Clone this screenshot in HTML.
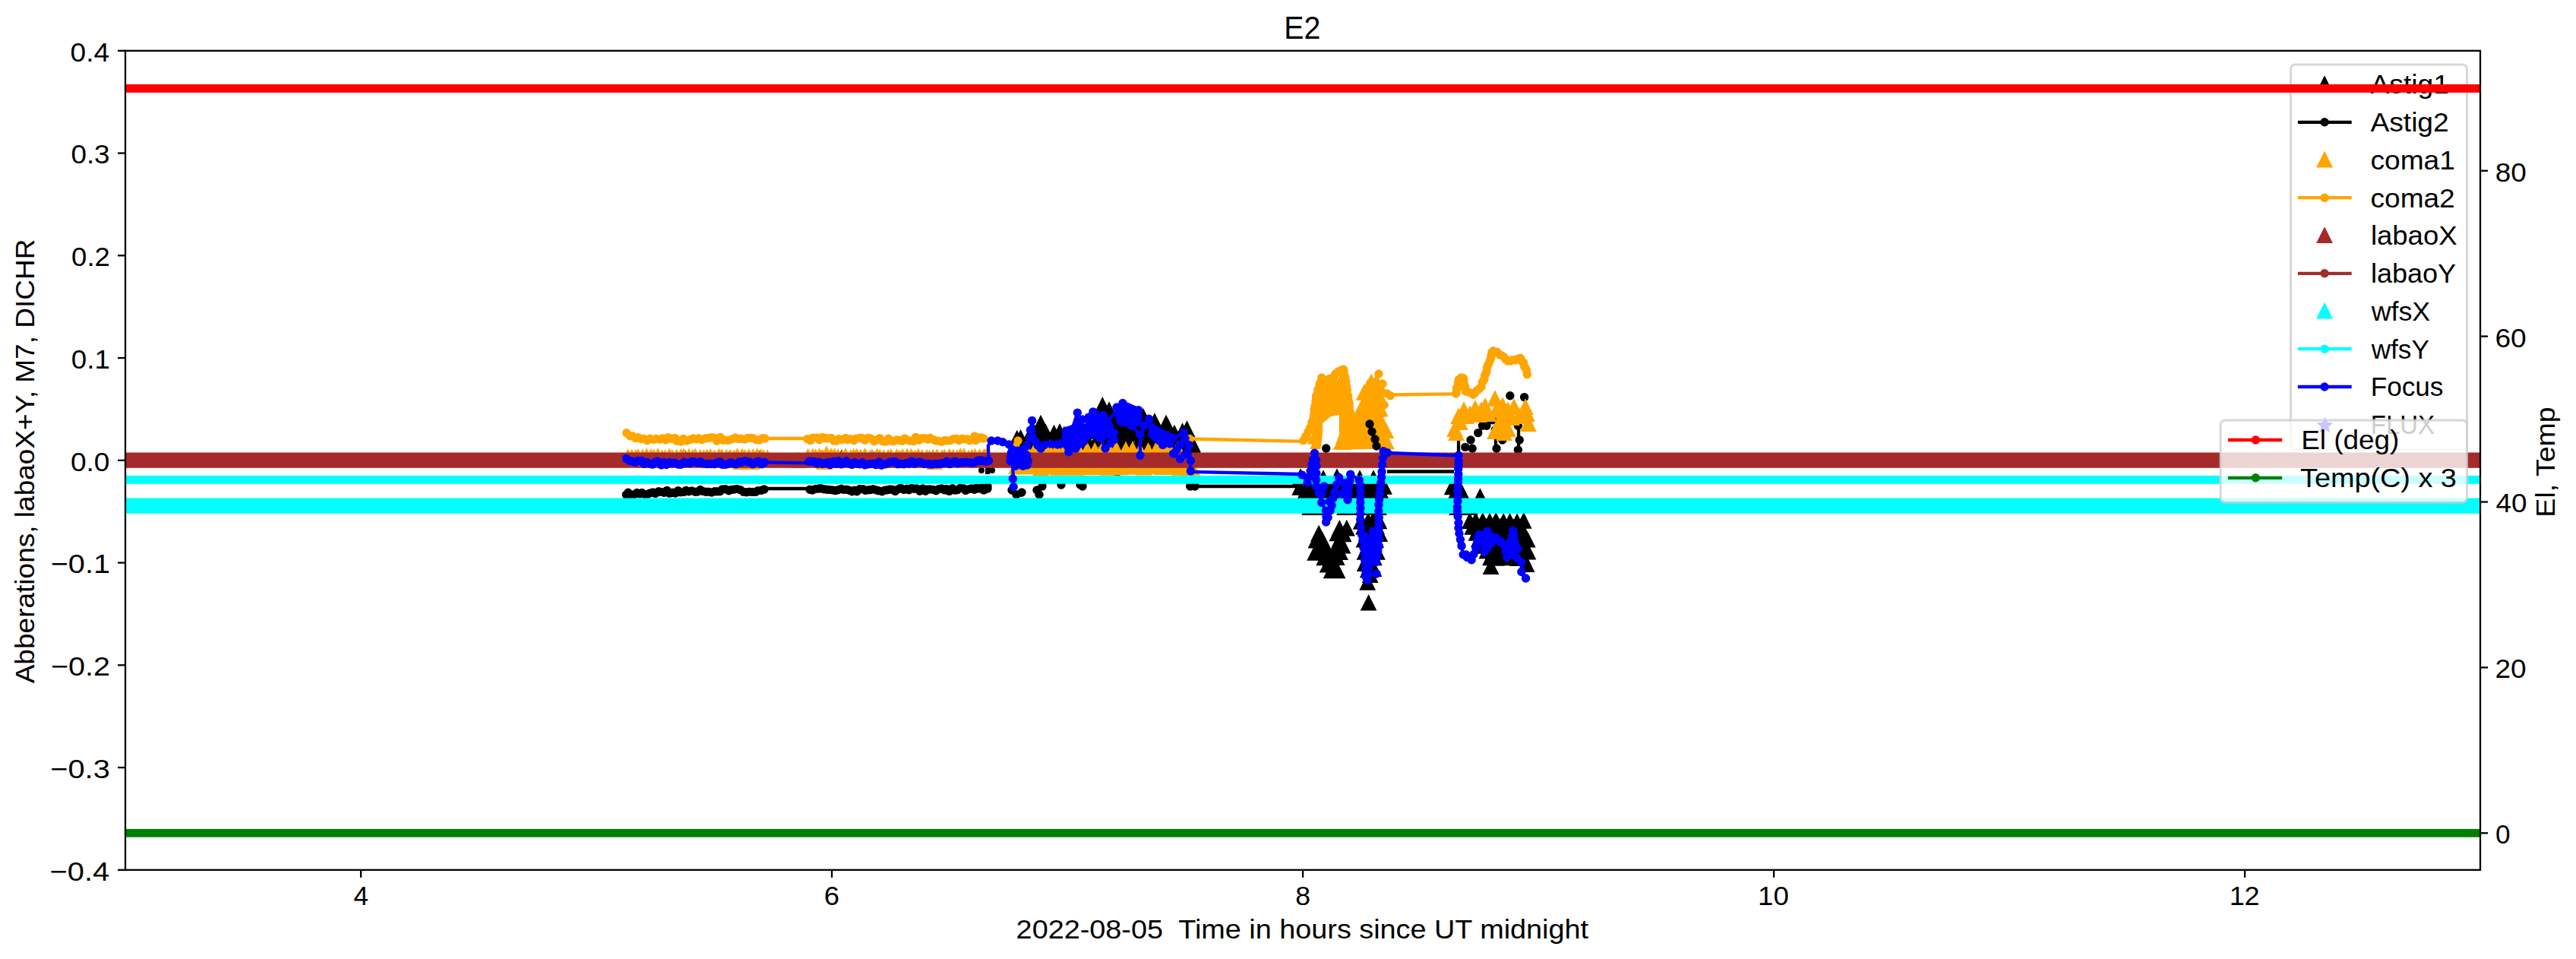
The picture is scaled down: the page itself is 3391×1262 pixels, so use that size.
<!DOCTYPE html><html><head><meta charset="utf-8"><style>html,body{margin:0;padding:0;background:#fff;overflow:hidden}</style></head><body><svg width="3391" height="1262" viewBox="0 0 3391 1262" style="display:block" font-family="Liberation Sans, sans-serif">
<rect width="3391" height="1262" fill="#fff"/>
<path d="M880.0 595.5L871.5 612.5L888.5 612.5ZM902.0 595.5L893.5 612.5L910.5 612.5ZM930.0 596.5L921.5 613.5L938.5 613.5ZM960.0 596.5L951.5 613.5L968.5 613.5ZM1000.0 595.5L991.5 612.5L1008.5 612.5ZM1082.0 595.5L1073.5 612.5L1090.5 612.5ZM1108.0 594.5L1099.5 611.5L1116.5 611.5ZM1150.0 596.5L1141.5 613.5L1158.5 613.5ZM1260.0 595.5L1251.5 612.5L1268.5 612.5ZM1296.0 594.5L1287.5 611.5L1304.5 611.5Z" fill="#000000" stroke="#000000" stroke-width="2.86" stroke-linejoin="miter"/>
<path d="M1461.0 535.4L1452.5 552.5L1469.6 552.5ZM1452.0 543.9L1443.5 561.0L1460.6 561.0ZM1465.3 545.3L1456.8 562.4L1473.9 562.4ZM1478.5 544.5L1469.9 561.6L1487.0 561.6ZM1492.6 541.5L1484.0 558.6L1501.1 558.6ZM1504.0 544.0L1495.5 561.1L1512.6 561.1ZM1368.6 553.9L1360.1 571.0L1377.2 571.0ZM1435.8 550.1L1427.2 567.2L1444.3 567.2ZM1448.3 551.5L1439.7 568.6L1456.8 568.6ZM1461.0 552.5L1452.4 569.6L1469.5 569.6ZM1471.7 554.0L1463.2 571.1L1480.3 571.1ZM1487.2 554.5L1478.7 571.6L1495.8 571.6ZM1499.9 552.0L1491.3 569.1L1508.4 569.1ZM1513.1 552.6L1504.5 569.7L1521.6 569.7ZM1522.2 553.9L1513.6 571.0L1530.7 571.0ZM1536.6 551.9L1528.0 569.0L1545.1 569.0ZM1362.2 562.0L1353.6 579.1L1370.7 579.1ZM1376.5 560.6L1367.9 577.7L1385.0 577.7ZM1387.5 561.9L1378.9 579.0L1396.0 579.0ZM1400.9 563.6L1392.4 580.7L1409.5 580.7ZM1411.6 561.4L1403.1 578.5L1420.2 578.5ZM1426.8 561.2L1418.2 578.3L1435.3 578.3ZM1441.3 559.3L1432.8 576.4L1449.9 576.4ZM1453.5 563.5L1445.0 580.6L1462.1 580.6ZM1465.1 561.0L1456.6 578.1L1473.7 578.1ZM1479.4 561.9L1470.9 579.0L1488.0 579.0ZM1494.1 562.6L1485.6 579.7L1502.7 579.7ZM1504.9 559.2L1496.4 576.3L1513.5 576.3ZM1517.8 563.6L1509.2 580.7L1526.3 580.7ZM1528.9 563.9L1520.3 581.0L1537.4 581.0ZM1546.0 562.0L1537.5 579.1L1554.6 579.1ZM1556.6 559.5L1548.0 576.6L1565.1 576.6ZM1343.6 568.1L1335.1 585.2L1352.2 585.2ZM1353.2 569.6L1344.7 586.7L1361.8 586.7ZM1370.6 568.8L1362.1 585.9L1379.2 585.9ZM1384.0 572.5L1375.4 589.6L1392.5 589.6ZM1395.0 569.7L1386.5 586.8L1403.6 586.8ZM1405.6 571.8L1397.0 588.9L1414.1 588.9ZM1420.4 570.4L1411.9 587.5L1429.0 587.5ZM1431.1 570.8L1422.6 587.9L1439.7 587.9ZM1445.6 569.7L1437.1 586.8L1454.2 586.8ZM1457.8 569.2L1449.3 586.3L1466.4 586.3ZM1474.6 570.4L1466.0 587.5L1483.1 587.5ZM1484.7 569.2L1476.2 586.3L1493.3 586.3ZM1499.8 572.6L1491.3 589.7L1508.4 589.7ZM1511.4 568.0L1502.9 585.1L1520.0 585.1ZM1524.8 570.6L1516.3 587.7L1533.4 587.7ZM1536.8 570.4L1528.2 587.5L1545.3 587.5ZM1549.3 571.4L1540.7 588.5L1557.8 588.5ZM1563.4 568.6L1554.9 585.7L1572.0 585.7ZM1334.7 579.9L1326.2 597.0L1343.3 597.0ZM1351.1 578.8L1342.6 595.9L1359.7 595.9ZM1359.6 578.6L1351.0 595.7L1368.1 595.7ZM1375.1 580.1L1366.6 597.2L1383.7 597.2ZM1387.9 580.4L1379.4 597.5L1396.5 597.5ZM1401.9 577.1L1393.4 594.2L1410.5 594.2ZM1412.1 581.5L1403.6 598.6L1420.7 598.6ZM1427.5 580.6L1418.9 597.7L1436.0 597.7ZM1439.3 580.1L1430.8 597.2L1447.9 597.2ZM1452.2 580.4L1443.6 597.5L1460.7 597.5ZM1466.7 580.8L1458.1 597.9L1475.2 597.9ZM1480.0 580.8L1471.4 597.9L1488.5 597.9ZM1489.7 580.0L1481.1 597.1L1498.2 597.1ZM1507.1 581.7L1498.5 598.8L1515.6 598.8ZM1519.1 581.2L1510.6 598.3L1527.7 598.3ZM1531.6 581.0L1523.1 598.1L1540.2 598.1ZM1545.0 579.5L1536.4 596.6L1553.5 596.6ZM1558.3 578.8L1549.8 595.9L1566.9 595.9ZM1571.3 580.8L1562.8 597.9L1579.9 597.9ZM1343.1 588.7L1334.5 605.8L1351.6 605.8ZM1357.7 590.0L1349.2 607.1L1366.3 607.1ZM1370.2 590.7L1361.7 607.8L1378.8 607.8ZM1383.1 589.7L1374.5 606.8L1391.6 606.8ZM1394.6 589.5L1386.0 606.6L1403.1 606.6ZM1406.9 587.6L1398.3 604.7L1415.4 604.7ZM1421.8 589.2L1413.3 606.3L1430.4 606.3ZM1433.8 589.9L1425.2 607.0L1442.3 607.0ZM1448.1 589.1L1439.5 606.2L1456.6 606.2ZM1461.7 590.4L1453.2 607.5L1470.3 607.5ZM1473.8 589.9L1465.2 607.0L1482.3 607.0ZM1486.6 589.9L1478.0 607.0L1495.1 607.0ZM1497.6 590.1L1489.1 607.2L1506.2 607.2ZM1512.2 590.9L1503.7 608.0L1520.8 608.0ZM1526.0 589.7L1517.4 606.8L1534.5 606.8ZM1538.1 587.5L1529.6 604.6L1546.7 604.6ZM1552.5 586.1L1543.9 603.2L1561.0 603.2ZM1565.0 587.7L1556.4 604.8L1573.5 604.8Z" fill="#000000" stroke="#000000" stroke-width="2.86" stroke-linejoin="miter"/>
<path d="M1338.8 569.0L1330.2 586.0L1347.3 586.0ZM1370.0 549.0L1361.5 566.0L1378.5 566.0ZM1395.0 560.2L1386.5 577.3L1403.5 577.3ZM1423.8 555.2L1415.2 572.3L1432.3 572.3ZM1451.3 525.2L1442.8 542.3L1459.8 542.3ZM1460.0 531.5L1451.5 548.5L1468.5 548.5ZM1505.0 540.2L1496.5 557.3L1513.5 557.3ZM1520.0 546.5L1511.5 563.5L1528.5 563.5ZM1535.0 549.0L1526.5 566.0L1543.5 566.0ZM1562.5 556.5L1554.0 573.5L1571.0 573.5ZM1570.0 576.5L1561.5 593.5L1578.5 593.5Z" fill="#000000" stroke="#000000" stroke-width="2.86" stroke-linejoin="miter"/>
<path d="M1380.0 603.5L1371.5 620.5L1388.5 620.5ZM1470.0 603.5L1461.5 620.5L1478.5 620.5Z" fill="#000000" stroke="#000000" stroke-width="2.86" stroke-linejoin="miter"/>
<path d="M1300.0 610.0L1300.0 624.0" fill="none" stroke="#000000" stroke-width="6" stroke-linejoin="round"/>
<path d="M1288.0 619.0a4 4 0 1 0 8 0a4 4 0 1 0 -8 0M1302.0 619.0a4 4 0 1 0 8 0a4 4 0 1 0 -8 0" fill="#000000"/>
<path d="M1711.1 633.3L1702.6 650.4L1719.7 650.4ZM1720.3 632.8L1711.8 649.9L1728.9 649.9ZM1729.2 633.4L1720.7 650.5L1737.8 650.5ZM1739.6 633.2L1731.1 650.3L1748.2 650.3ZM1747.4 632.5L1738.8 649.6L1755.9 649.6ZM1756.4 633.3L1747.8 650.4L1764.9 650.4ZM1766.4 632.5L1757.8 649.6L1774.9 649.6ZM1775.9 632.1L1767.3 649.2L1784.4 649.2ZM1784.3 632.8L1775.8 649.9L1792.9 649.9ZM1794.0 632.5L1785.4 649.6L1802.5 649.6ZM1717.2 640.4L1708.7 657.5L1725.8 657.5ZM1725.6 639.5L1717.0 656.6L1734.1 656.6ZM1735.3 641.3L1726.8 658.4L1743.9 658.4ZM1743.6 641.3L1735.0 658.4L1752.1 658.4ZM1752.1 640.7L1743.6 657.8L1760.7 657.8ZM1761.9 641.0L1753.3 658.1L1770.4 658.1ZM1770.6 640.7L1762.0 657.8L1779.1 657.8ZM1779.4 641.0L1770.9 658.1L1788.0 658.1ZM1787.6 641.1L1779.0 658.2L1796.1 658.2ZM1798.3 640.1L1789.8 657.2L1806.9 657.2Z" fill="#000000" stroke="#000000" stroke-width="2.86" stroke-linejoin="miter"/>
<path d="M1805.9 631.7L1797.4 648.8L1814.5 648.8ZM1814.6 632.8L1806.1 649.9L1823.2 649.9ZM1822.1 632.3L1813.5 649.4L1830.6 649.4ZM1808.5 640.9L1800.0 658.0L1817.1 658.0ZM1819.1 641.1L1810.6 658.2L1827.7 658.2Z" fill="#000000" stroke="#000000" stroke-width="2.86" stroke-linejoin="miter"/>
<path d="M1712.0 619.5L1703.5 636.5L1720.5 636.5ZM1726.0 619.5L1717.5 636.5L1734.5 636.5ZM1742.0 621.5L1733.5 638.5L1750.5 638.5ZM1760.0 619.5L1751.5 636.5L1768.5 636.5ZM1790.0 621.5L1781.5 638.5L1798.5 638.5ZM1808.0 621.5L1799.5 638.5L1816.5 638.5ZM1724.0 659.5L1715.5 676.5L1732.5 676.5ZM1736.0 659.5L1727.5 676.5L1744.5 676.5ZM1770.0 659.5L1761.5 676.5L1778.5 676.5ZM1785.0 659.5L1776.5 676.5L1793.5 676.5ZM1800.0 659.5L1791.5 676.5L1808.5 676.5ZM1815.0 659.5L1806.5 676.5L1823.5 676.5Z" fill="#000000" stroke="#000000" stroke-width="2.86" stroke-linejoin="miter"/>
<path d="M1763.3 687.1L1754.7 704.2L1771.8 704.2ZM1772.8 686.9L1764.3 704.0L1781.4 704.0ZM1736.1 693.9L1727.5 711.0L1744.6 711.0ZM1760.4 693.6L1751.8 710.7L1768.9 710.7ZM1768.7 694.7L1760.1 711.8L1777.2 711.8ZM1732.4 703.0L1723.9 720.1L1741.0 720.1ZM1741.0 703.0L1732.4 720.1L1749.5 720.1ZM1763.3 702.0L1754.8 719.1L1771.9 719.1ZM1736.5 710.5L1728.0 727.6L1745.1 727.6ZM1744.6 710.3L1736.0 727.4L1753.1 727.4ZM1759.6 710.9L1751.1 728.0L1768.2 728.0ZM1767.6 710.0L1759.0 727.1L1776.1 727.1ZM1731.1 719.3L1722.5 736.4L1739.6 736.4ZM1739.5 717.6L1730.9 734.7L1748.0 734.7ZM1748.0 718.4L1739.5 735.5L1756.6 735.5ZM1755.8 718.2L1747.3 735.3L1764.4 735.3ZM1764.0 718.5L1755.5 735.6L1772.6 735.6ZM1743.2 725.7L1734.6 742.8L1751.7 742.8ZM1752.0 725.5L1743.4 742.6L1760.5 742.6ZM1759.8 725.5L1751.2 742.6L1768.3 742.6ZM1747.6 735.0L1739.0 752.1L1756.1 752.1ZM1755.3 735.0L1746.7 752.1L1763.8 752.1ZM1752.6 742.8L1744.0 759.9L1761.1 759.9ZM1760.6 742.8L1752.0 759.9L1769.1 759.9Z" fill="#000000" stroke="#000000" stroke-width="2.86" stroke-linejoin="miter"/>
<path d="M1791.7 678.2L1783.1 695.3L1800.2 695.3ZM1800.9 677.6L1792.4 694.7L1809.5 694.7ZM1807.4 676.6L1798.9 693.7L1816.0 693.7ZM1815.5 677.7L1806.9 694.8L1824.0 694.8ZM1795.0 684.9L1786.5 702.0L1803.6 702.0ZM1803.1 685.4L1794.6 702.5L1811.7 702.5ZM1812.2 684.7L1803.6 701.8L1820.7 701.8ZM1800.1 693.8L1791.6 710.9L1808.7 710.9ZM1807.2 693.5L1798.6 710.6L1815.7 710.6ZM1816.2 694.4L1807.7 711.5L1824.8 711.5ZM1795.5 701.9L1786.9 719.0L1804.0 719.0ZM1804.0 702.1L1795.4 719.2L1812.5 719.2ZM1811.2 702.4L1802.7 719.5L1819.8 719.5ZM1800.3 709.6L1791.8 726.7L1808.9 726.7ZM1808.0 710.3L1799.5 727.4L1816.6 727.4ZM1796.5 718.1L1787.9 735.2L1805.0 735.2ZM1804.7 716.5L1796.1 733.6L1813.2 733.6ZM1813.0 718.3L1804.4 735.4L1821.5 735.4ZM1800.2 726.1L1791.6 743.2L1808.7 743.2ZM1808.9 725.8L1800.3 742.9L1817.4 742.9ZM1796.6 733.4L1788.1 750.5L1805.2 750.5ZM1803.0 733.1L1794.5 750.2L1811.6 750.2ZM1800.7 741.6L1792.1 758.7L1809.2 758.7ZM1808.3 740.5L1799.8 757.6L1816.9 757.6ZM1803.6 748.5L1795.1 765.6L1812.2 765.6ZM1800.1 758.2L1791.6 775.3L1808.7 775.3Z" fill="#000000" stroke="#000000" stroke-width="2.86" stroke-linejoin="miter"/>
<path d="M1801.6 785.1L1793.0 802.1L1810.1 802.1Z" fill="#000000" stroke="#000000" stroke-width="2.86" stroke-linejoin="miter"/>
<path d="M1911.5 632.7L1903.0 649.8L1920.1 649.8ZM1919.8 634.1L1911.3 651.2L1928.4 651.2ZM1915.6 640.6L1907.0 657.7L1924.1 657.7ZM1924.8 641.0L1916.3 658.1L1933.4 658.1Z" fill="#000000" stroke="#000000" stroke-width="2.86" stroke-linejoin="miter"/>
<path d="M1948.4 645.5L1939.9 662.5L1957.0 662.5ZM1918.0 659.5L1909.5 676.5L1926.5 676.5ZM1935.0 659.5L1926.5 676.5L1943.5 676.5Z" fill="#000000" stroke="#000000" stroke-width="2.86" stroke-linejoin="miter"/>
<path d="M1934.8 677.5L1926.3 694.6L1943.4 694.6ZM1942.6 677.2L1934.0 694.3L1951.1 694.3ZM1951.8 677.1L1943.3 694.2L1960.4 694.2ZM1961.0 678.0L1952.5 695.1L1969.6 695.1ZM1969.2 677.0L1960.7 694.1L1977.8 694.1ZM1979.2 678.1L1970.6 695.2L1987.7 695.2ZM1987.6 678.1L1979.1 695.2L1996.2 695.2ZM1997.1 678.4L1988.5 695.5L2005.6 695.5ZM2005.8 677.2L1997.2 694.3L2014.3 694.3ZM1938.2 685.1L1929.6 702.2L1946.7 702.2ZM1948.0 684.7L1939.5 701.8L1956.6 701.8ZM1956.1 684.9L1947.5 702.0L1964.6 702.0ZM1966.1 685.9L1957.6 703.0L1974.7 703.0ZM1975.2 684.6L1966.6 701.7L1983.7 701.7ZM1984.5 684.5L1975.9 701.6L1993.0 701.6ZM1992.3 685.8L1983.7 702.9L2000.8 702.9ZM2001.2 685.9L1992.6 703.0L2009.7 703.0ZM1943.5 693.3L1934.9 710.4L1952.0 710.4ZM1951.2 693.6L1942.6 710.7L1959.7 710.7ZM1960.0 692.7L1951.5 709.8L1968.6 709.8ZM1970.3 694.3L1961.8 711.4L1978.9 711.4ZM1979.5 693.4L1970.9 710.5L1988.0 710.5ZM1987.9 693.2L1979.4 710.3L1996.5 710.3ZM1997.2 694.0L1988.7 711.1L2005.8 711.1ZM2005.9 693.2L1997.3 710.3L2014.4 710.3ZM1946.7 701.7L1938.2 718.8L1955.3 718.8ZM1957.4 701.9L1948.8 719.0L1965.9 719.0ZM1965.4 701.2L1956.9 718.3L1974.0 718.3ZM1974.2 701.4L1965.7 718.5L1982.8 718.5ZM1984.0 702.1L1975.5 719.2L1992.6 719.2ZM1992.3 700.8L1983.7 717.9L2000.8 717.9ZM2002.4 701.9L1993.9 719.0L2011.0 719.0ZM2010.7 702.0L2002.2 719.1L2019.3 719.1ZM1951.9 710.2L1943.4 727.3L1960.5 727.3ZM1961.7 710.1L1953.1 727.2L1970.2 727.2ZM1969.3 710.3L1960.8 727.4L1977.9 727.4ZM1979.5 709.4L1970.9 726.5L1988.0 726.5ZM1988.6 709.8L1980.0 726.9L1997.1 726.9ZM1996.9 708.6L1988.4 725.7L2005.5 725.7ZM2006.8 709.0L1998.2 726.1L2015.3 726.1ZM1957.4 716.6L1948.8 733.7L1965.9 733.7ZM1965.5 717.1L1956.9 734.2L1974.0 734.2ZM1974.9 717.4L1966.3 734.5L1983.4 734.5ZM1982.6 718.4L1974.1 735.5L1991.2 735.5ZM1992.1 717.5L1983.5 734.6L2000.6 734.6ZM2002.2 716.6L1993.6 733.7L2010.7 733.7ZM2011.4 718.0L2002.9 735.1L2020.0 735.1ZM1961.9 725.7L1953.4 742.8L1970.5 742.8ZM1970.1 726.1L1961.5 743.2L1978.6 743.2ZM1978.1 725.7L1969.6 742.8L1986.7 742.8ZM1988.5 724.6L1980.0 741.7L1997.1 741.7ZM1997.7 726.4L1989.2 743.5L2006.3 743.5ZM2005.6 726.4L1997.1 743.5L2014.2 743.5Z" fill="#000000" stroke="#000000" stroke-width="2.86" stroke-linejoin="miter"/>
<path d="M1962.6 737.5L1954.0 754.5L1971.1 754.5ZM2009.6 734.5L2001.0 751.5L2018.1 751.5Z" fill="#000000" stroke="#000000" stroke-width="2.86" stroke-linejoin="miter"/>
<path d="M824.0 650.0L845.0 648.5L870.0 647.5L900.0 647.0L940.0 646.0L970.0 645.5L990.0 646.0L1006.0 644.0" fill="none" stroke="#000000" stroke-width="4.29" stroke-linejoin="round"/>
<path d="M818.7 651.1a5.7 5.7 0 1 0 11.4 0a5.7 5.7 0 1 0 -11.4 0M821.2 648.2a5.7 5.7 0 1 0 11.4 0a5.7 5.7 0 1 0 -11.4 0M824.9 651.4a5.7 5.7 0 1 0 11.4 0a5.7 5.7 0 1 0 -11.4 0M829.1 650.7a5.7 5.7 0 1 0 11.4 0a5.7 5.7 0 1 0 -11.4 0M832.7 648.5a5.7 5.7 0 1 0 11.4 0a5.7 5.7 0 1 0 -11.4 0M836.4 649.9a5.7 5.7 0 1 0 11.4 0a5.7 5.7 0 1 0 -11.4 0M839.3 648.5a5.7 5.7 0 1 0 11.4 0a5.7 5.7 0 1 0 -11.4 0M843.1 650.4a5.7 5.7 0 1 0 11.4 0a5.7 5.7 0 1 0 -11.4 0M847.1 650.3a5.7 5.7 0 1 0 11.4 0a5.7 5.7 0 1 0 -11.4 0M850.1 648.9a5.7 5.7 0 1 0 11.4 0a5.7 5.7 0 1 0 -11.4 0M853.6 648.0a5.7 5.7 0 1 0 11.4 0a5.7 5.7 0 1 0 -11.4 0M857.0 649.4a5.7 5.7 0 1 0 11.4 0a5.7 5.7 0 1 0 -11.4 0M861.2 646.7a5.7 5.7 0 1 0 11.4 0a5.7 5.7 0 1 0 -11.4 0M864.5 647.4a5.7 5.7 0 1 0 11.4 0a5.7 5.7 0 1 0 -11.4 0M868.4 648.3a5.7 5.7 0 1 0 11.4 0a5.7 5.7 0 1 0 -11.4 0M872.3 645.4a5.7 5.7 0 1 0 11.4 0a5.7 5.7 0 1 0 -11.4 0M875.5 649.1a5.7 5.7 0 1 0 11.4 0a5.7 5.7 0 1 0 -11.4 0M879.7 648.3a5.7 5.7 0 1 0 11.4 0a5.7 5.7 0 1 0 -11.4 0M883.4 649.0a5.7 5.7 0 1 0 11.4 0a5.7 5.7 0 1 0 -11.4 0M886.9 645.6a5.7 5.7 0 1 0 11.4 0a5.7 5.7 0 1 0 -11.4 0M890.2 647.8a5.7 5.7 0 1 0 11.4 0a5.7 5.7 0 1 0 -11.4 0M894.5 647.4a5.7 5.7 0 1 0 11.4 0a5.7 5.7 0 1 0 -11.4 0M897.3 645.4a5.7 5.7 0 1 0 11.4 0a5.7 5.7 0 1 0 -11.4 0M901.0 646.8a5.7 5.7 0 1 0 11.4 0a5.7 5.7 0 1 0 -11.4 0M904.8 645.9a5.7 5.7 0 1 0 11.4 0a5.7 5.7 0 1 0 -11.4 0M909.5 647.3a5.7 5.7 0 1 0 11.4 0a5.7 5.7 0 1 0 -11.4 0M912.1 647.1a5.7 5.7 0 1 0 11.4 0a5.7 5.7 0 1 0 -11.4 0M916.2 644.5a5.7 5.7 0 1 0 11.4 0a5.7 5.7 0 1 0 -11.4 0M919.5 646.4a5.7 5.7 0 1 0 11.4 0a5.7 5.7 0 1 0 -11.4 0M923.6 647.3a5.7 5.7 0 1 0 11.4 0a5.7 5.7 0 1 0 -11.4 0M927.0 647.1a5.7 5.7 0 1 0 11.4 0a5.7 5.7 0 1 0 -11.4 0M931.2 648.0a5.7 5.7 0 1 0 11.4 0a5.7 5.7 0 1 0 -11.4 0M934.9 646.7a5.7 5.7 0 1 0 11.4 0a5.7 5.7 0 1 0 -11.4 0M938.3 646.7a5.7 5.7 0 1 0 11.4 0a5.7 5.7 0 1 0 -11.4 0M942.1 646.6a5.7 5.7 0 1 0 11.4 0a5.7 5.7 0 1 0 -11.4 0M945.2 643.9a5.7 5.7 0 1 0 11.4 0a5.7 5.7 0 1 0 -11.4 0M949.2 643.6a5.7 5.7 0 1 0 11.4 0a5.7 5.7 0 1 0 -11.4 0M953.6 645.8a5.7 5.7 0 1 0 11.4 0a5.7 5.7 0 1 0 -11.4 0M956.8 644.5a5.7 5.7 0 1 0 11.4 0a5.7 5.7 0 1 0 -11.4 0M960.3 644.1a5.7 5.7 0 1 0 11.4 0a5.7 5.7 0 1 0 -11.4 0M964.3 643.4a5.7 5.7 0 1 0 11.4 0a5.7 5.7 0 1 0 -11.4 0M968.9 644.6a5.7 5.7 0 1 0 11.4 0a5.7 5.7 0 1 0 -11.4 0M972.8 647.3a5.7 5.7 0 1 0 11.4 0a5.7 5.7 0 1 0 -11.4 0M976.9 647.8a5.7 5.7 0 1 0 11.4 0a5.7 5.7 0 1 0 -11.4 0M980.7 647.1a5.7 5.7 0 1 0 11.4 0a5.7 5.7 0 1 0 -11.4 0M984.7 647.4a5.7 5.7 0 1 0 11.4 0a5.7 5.7 0 1 0 -11.4 0M988.9 647.4a5.7 5.7 0 1 0 11.4 0a5.7 5.7 0 1 0 -11.4 0M991.9 645.6a5.7 5.7 0 1 0 11.4 0a5.7 5.7 0 1 0 -11.4 0M996.7 645.3a5.7 5.7 0 1 0 11.4 0a5.7 5.7 0 1 0 -11.4 0M1000.3 644.0a5.7 5.7 0 1 0 11.4 0a5.7 5.7 0 1 0 -11.4 0" fill="#000000"/>
<path d="M1006.0 643.0L1064.0 643.0" fill="none" stroke="#000000" stroke-width="4.29" stroke-linejoin="round"/>
<path d="M1066.0 645.0L1100.0 644.5L1150.0 645.0L1200.0 644.0L1250.0 644.5L1300.0 643.0" fill="none" stroke="#000000" stroke-width="4.29" stroke-linejoin="round"/>
<path d="M1060.3 644.2a5.7 5.7 0 1 0 11.4 0a5.7 5.7 0 1 0 -11.4 0M1063.8 645.0a5.7 5.7 0 1 0 11.4 0a5.7 5.7 0 1 0 -11.4 0M1067.9 643.4a5.7 5.7 0 1 0 11.4 0a5.7 5.7 0 1 0 -11.4 0M1072.3 643.0a5.7 5.7 0 1 0 11.4 0a5.7 5.7 0 1 0 -11.4 0M1075.0 642.7a5.7 5.7 0 1 0 11.4 0a5.7 5.7 0 1 0 -11.4 0M1078.9 643.8a5.7 5.7 0 1 0 11.4 0a5.7 5.7 0 1 0 -11.4 0M1082.7 644.3a5.7 5.7 0 1 0 11.4 0a5.7 5.7 0 1 0 -11.4 0M1086.1 644.4a5.7 5.7 0 1 0 11.4 0a5.7 5.7 0 1 0 -11.4 0M1090.4 644.9a5.7 5.7 0 1 0 11.4 0a5.7 5.7 0 1 0 -11.4 0M1093.9 645.6a5.7 5.7 0 1 0 11.4 0a5.7 5.7 0 1 0 -11.4 0M1097.4 644.7a5.7 5.7 0 1 0 11.4 0a5.7 5.7 0 1 0 -11.4 0M1101.8 643.3a5.7 5.7 0 1 0 11.4 0a5.7 5.7 0 1 0 -11.4 0M1104.4 644.3a5.7 5.7 0 1 0 11.4 0a5.7 5.7 0 1 0 -11.4 0M1108.7 644.2a5.7 5.7 0 1 0 11.4 0a5.7 5.7 0 1 0 -11.4 0M1111.7 645.0a5.7 5.7 0 1 0 11.4 0a5.7 5.7 0 1 0 -11.4 0M1115.9 646.8a5.7 5.7 0 1 0 11.4 0a5.7 5.7 0 1 0 -11.4 0M1119.0 645.2a5.7 5.7 0 1 0 11.4 0a5.7 5.7 0 1 0 -11.4 0M1122.3 646.8a5.7 5.7 0 1 0 11.4 0a5.7 5.7 0 1 0 -11.4 0M1126.0 643.5a5.7 5.7 0 1 0 11.4 0a5.7 5.7 0 1 0 -11.4 0M1130.5 643.7a5.7 5.7 0 1 0 11.4 0a5.7 5.7 0 1 0 -11.4 0M1133.6 645.4a5.7 5.7 0 1 0 11.4 0a5.7 5.7 0 1 0 -11.4 0M1137.6 644.6a5.7 5.7 0 1 0 11.4 0a5.7 5.7 0 1 0 -11.4 0M1140.2 644.5a5.7 5.7 0 1 0 11.4 0a5.7 5.7 0 1 0 -11.4 0M1143.7 643.8a5.7 5.7 0 1 0 11.4 0a5.7 5.7 0 1 0 -11.4 0M1148.1 645.0a5.7 5.7 0 1 0 11.4 0a5.7 5.7 0 1 0 -11.4 0M1150.9 645.7a5.7 5.7 0 1 0 11.4 0a5.7 5.7 0 1 0 -11.4 0M1155.5 646.8a5.7 5.7 0 1 0 11.4 0a5.7 5.7 0 1 0 -11.4 0M1159.0 645.1a5.7 5.7 0 1 0 11.4 0a5.7 5.7 0 1 0 -11.4 0M1162.5 644.7a5.7 5.7 0 1 0 11.4 0a5.7 5.7 0 1 0 -11.4 0M1166.0 644.0a5.7 5.7 0 1 0 11.4 0a5.7 5.7 0 1 0 -11.4 0M1168.8 644.2a5.7 5.7 0 1 0 11.4 0a5.7 5.7 0 1 0 -11.4 0M1172.7 646.4a5.7 5.7 0 1 0 11.4 0a5.7 5.7 0 1 0 -11.4 0M1176.1 643.9a5.7 5.7 0 1 0 11.4 0a5.7 5.7 0 1 0 -11.4 0M1179.8 642.1a5.7 5.7 0 1 0 11.4 0a5.7 5.7 0 1 0 -11.4 0M1184.2 644.4a5.7 5.7 0 1 0 11.4 0a5.7 5.7 0 1 0 -11.4 0M1187.8 643.3a5.7 5.7 0 1 0 11.4 0a5.7 5.7 0 1 0 -11.4 0M1190.8 644.7a5.7 5.7 0 1 0 11.4 0a5.7 5.7 0 1 0 -11.4 0M1194.2 642.4a5.7 5.7 0 1 0 11.4 0a5.7 5.7 0 1 0 -11.4 0M1197.7 643.3a5.7 5.7 0 1 0 11.4 0a5.7 5.7 0 1 0 -11.4 0M1201.1 643.0a5.7 5.7 0 1 0 11.4 0a5.7 5.7 0 1 0 -11.4 0M1205.0 646.2a5.7 5.7 0 1 0 11.4 0a5.7 5.7 0 1 0 -11.4 0M1209.0 642.9a5.7 5.7 0 1 0 11.4 0a5.7 5.7 0 1 0 -11.4 0M1212.6 646.2a5.7 5.7 0 1 0 11.4 0a5.7 5.7 0 1 0 -11.4 0M1215.8 644.0a5.7 5.7 0 1 0 11.4 0a5.7 5.7 0 1 0 -11.4 0M1218.9 643.9a5.7 5.7 0 1 0 11.4 0a5.7 5.7 0 1 0 -11.4 0M1222.9 644.4a5.7 5.7 0 1 0 11.4 0a5.7 5.7 0 1 0 -11.4 0M1226.5 645.7a5.7 5.7 0 1 0 11.4 0a5.7 5.7 0 1 0 -11.4 0M1230.4 643.4a5.7 5.7 0 1 0 11.4 0a5.7 5.7 0 1 0 -11.4 0M1234.0 642.9a5.7 5.7 0 1 0 11.4 0a5.7 5.7 0 1 0 -11.4 0M1237.7 644.9a5.7 5.7 0 1 0 11.4 0a5.7 5.7 0 1 0 -11.4 0M1240.3 643.4a5.7 5.7 0 1 0 11.4 0a5.7 5.7 0 1 0 -11.4 0M1243.9 646.4a5.7 5.7 0 1 0 11.4 0a5.7 5.7 0 1 0 -11.4 0M1248.1 642.8a5.7 5.7 0 1 0 11.4 0a5.7 5.7 0 1 0 -11.4 0M1251.7 645.1a5.7 5.7 0 1 0 11.4 0a5.7 5.7 0 1 0 -11.4 0M1254.7 644.6a5.7 5.7 0 1 0 11.4 0a5.7 5.7 0 1 0 -11.4 0M1258.3 642.2a5.7 5.7 0 1 0 11.4 0a5.7 5.7 0 1 0 -11.4 0M1262.8 642.9a5.7 5.7 0 1 0 11.4 0a5.7 5.7 0 1 0 -11.4 0M1265.4 645.4a5.7 5.7 0 1 0 11.4 0a5.7 5.7 0 1 0 -11.4 0M1269.7 643.6a5.7 5.7 0 1 0 11.4 0a5.7 5.7 0 1 0 -11.4 0M1272.9 643.0a5.7 5.7 0 1 0 11.4 0a5.7 5.7 0 1 0 -11.4 0M1276.9 644.3a5.7 5.7 0 1 0 11.4 0a5.7 5.7 0 1 0 -11.4 0M1280.2 642.6a5.7 5.7 0 1 0 11.4 0a5.7 5.7 0 1 0 -11.4 0M1283.0 643.0a5.7 5.7 0 1 0 11.4 0a5.7 5.7 0 1 0 -11.4 0M1286.7 641.8a5.7 5.7 0 1 0 11.4 0a5.7 5.7 0 1 0 -11.4 0M1291.4 643.9a5.7 5.7 0 1 0 11.4 0a5.7 5.7 0 1 0 -11.4 0M1294.3 643.0a5.7 5.7 0 1 0 11.4 0a5.7 5.7 0 1 0 -11.4 0" fill="#000000"/>
<path d="M1279.3 642.0a5.7 5.7 0 1 0 11.4 0a5.7 5.7 0 1 0 -11.4 0M1289.3 645.0a5.7 5.7 0 1 0 11.4 0a5.7 5.7 0 1 0 -11.4 0M1294.3 640.0a5.7 5.7 0 1 0 11.4 0a5.7 5.7 0 1 0 -11.4 0M1326.3 645.0a5.7 5.7 0 1 0 11.4 0a5.7 5.7 0 1 0 -11.4 0M1332.3 651.0a5.7 5.7 0 1 0 11.4 0a5.7 5.7 0 1 0 -11.4 0M1339.3 648.0a5.7 5.7 0 1 0 11.4 0a5.7 5.7 0 1 0 -11.4 0M1359.3 645.0a5.7 5.7 0 1 0 11.4 0a5.7 5.7 0 1 0 -11.4 0M1362.3 651.0a5.7 5.7 0 1 0 11.4 0a5.7 5.7 0 1 0 -11.4 0M1366.3 640.0a5.7 5.7 0 1 0 11.4 0a5.7 5.7 0 1 0 -11.4 0M1391.3 638.0a5.7 5.7 0 1 0 11.4 0a5.7 5.7 0 1 0 -11.4 0M1416.3 638.0a5.7 5.7 0 1 0 11.4 0a5.7 5.7 0 1 0 -11.4 0M1419.3 640.0a5.7 5.7 0 1 0 11.4 0a5.7 5.7 0 1 0 -11.4 0M1464.3 621.7a5.7 5.7 0 1 0 11.4 0a5.7 5.7 0 1 0 -11.4 0M1417.3 638.0a5.7 5.7 0 1 0 11.4 0a5.7 5.7 0 1 0 -11.4 0M1561.0 640.0a5.7 5.7 0 1 0 11.4 0a5.7 5.7 0 1 0 -11.4 0M1567.3 640.0a5.7 5.7 0 1 0 11.4 0a5.7 5.7 0 1 0 -11.4 0" fill="#000000"/>
<path d="M1567.0 640.0L1712.0 640.0" fill="none" stroke="#000000" stroke-width="4.29" stroke-linejoin="round"/>
<path d="M1740.0 590.0a5.7 5.7 0 1 0 11.4 0a5.7 5.7 0 1 0 -11.4 0M1799.3 560.0a5.7 5.7 0 1 0 11.4 0a5.7 5.7 0 1 0 -11.4 0M1802.3 575.0a5.7 5.7 0 1 0 11.4 0a5.7 5.7 0 1 0 -11.4 0M1806.3 585.0a5.7 5.7 0 1 0 11.4 0a5.7 5.7 0 1 0 -11.4 0" fill="#000000"/>
<path d="M1826.0 620.5L1914.0 620.5" fill="none" stroke="#000000" stroke-width="4.29" stroke-linejoin="round"/>
<path d="M1920.0 575.0L1920.0 596.0" fill="none" stroke="#000000" stroke-width="4.29" stroke-linejoin="round"/>
<path d="M1969.0 552.0L1969.0 594.0" fill="none" stroke="#000000" stroke-width="4.29" stroke-linejoin="round"/>
<path d="M1999.0 552.0L1999.0 594.0" fill="none" stroke="#000000" stroke-width="4.29" stroke-linejoin="round"/>
<path d="M1982.1 520.7a5.7 5.7 0 1 0 11.4 0a5.7 5.7 0 1 0 -11.4 0M2000.9 522.6a5.7 5.7 0 1 0 11.4 0a5.7 5.7 0 1 0 -11.4 0M1930.3 579.0a5.7 5.7 0 1 0 11.4 0a5.7 5.7 0 1 0 -11.4 0M1940.0 569.6a5.7 5.7 0 1 0 11.4 0a5.7 5.7 0 1 0 -11.4 0M1923.1 588.4a5.7 5.7 0 1 0 11.4 0a5.7 5.7 0 1 0 -11.4 0M1932.5 590.2a5.7 5.7 0 1 0 11.4 0a5.7 5.7 0 1 0 -11.4 0M1945.7 560.2a5.7 5.7 0 1 0 11.4 0a5.7 5.7 0 1 0 -11.4 0M1951.3 560.2a5.7 5.7 0 1 0 11.4 0a5.7 5.7 0 1 0 -11.4 0M1958.8 552.7a5.7 5.7 0 1 0 11.4 0a5.7 5.7 0 1 0 -11.4 0M1962.6 565.8a5.7 5.7 0 1 0 11.4 0a5.7 5.7 0 1 0 -11.4 0M1964.3 590.2a5.7 5.7 0 1 0 11.4 0a5.7 5.7 0 1 0 -11.4 0M1972.0 579.0a5.7 5.7 0 1 0 11.4 0a5.7 5.7 0 1 0 -11.4 0M1992.6 560.2a5.7 5.7 0 1 0 11.4 0a5.7 5.7 0 1 0 -11.4 0M1994.5 579.0a5.7 5.7 0 1 0 11.4 0a5.7 5.7 0 1 0 -11.4 0M1992.6 592.1a5.7 5.7 0 1 0 11.4 0a5.7 5.7 0 1 0 -11.4 0M1916.3 560.0a5.7 5.7 0 1 0 11.4 0a5.7 5.7 0 1 0 -11.4 0" fill="#000000"/>
<path d="M826.5 593.3L818.0 610.4L835.1 610.4ZM831.7 593.6L823.2 610.7L840.3 610.7ZM836.7 594.0L828.2 611.1L845.3 611.1ZM840.0 593.1L831.5 610.2L848.6 610.2ZM845.9 593.6L837.4 610.7L854.5 610.7ZM851.2 592.4L842.6 609.5L859.7 609.5ZM857.0 593.2L848.5 610.3L865.6 610.3ZM860.8 593.8L852.3 610.9L869.4 610.9ZM866.2 592.5L857.6 609.6L874.7 609.6ZM871.6 594.4L863.0 611.5L880.1 611.5ZM875.6 594.2L867.1 611.3L884.2 611.3ZM881.2 592.7L872.6 609.8L889.7 609.8ZM884.9 594.1L876.4 611.2L893.5 611.2ZM890.7 593.8L882.2 610.9L899.3 610.9ZM896.3 593.2L887.8 610.3L904.9 610.3ZM900.1 592.7L891.5 609.8L908.6 609.8ZM906.9 592.9L898.4 610.0L915.5 610.0ZM911.7 593.9L903.2 611.0L920.3 611.0ZM915.2 592.6L906.7 609.7L923.8 609.7ZM921.7 593.8L913.1 610.9L930.2 610.9ZM926.4 594.1L917.8 611.2L934.9 611.2ZM930.8 593.6L922.2 610.7L939.3 610.7ZM935.2 592.9L926.7 610.0L943.8 610.0ZM940.4 594.5L931.9 611.6L949.0 611.6ZM946.5 593.0L937.9 610.1L955.0 610.1ZM950.1 593.3L941.6 610.4L958.7 610.4ZM956.4 593.7L947.8 610.8L964.9 610.8ZM961.6 594.1L953.1 611.2L970.2 611.2ZM966.1 594.2L957.6 611.3L974.7 611.3ZM970.5 592.3L961.9 609.4L979.0 609.4ZM977.0 592.7L968.5 609.8L985.6 609.8ZM980.6 593.9L972.0 611.0L989.1 611.0ZM985.9 593.2L977.3 610.3L994.4 610.3ZM991.3 593.1L982.7 610.2L999.8 610.2ZM996.7 592.5L988.1 609.6L1005.2 609.6ZM1001.7 593.2L993.2 610.3L1010.3 610.3ZM1004.9 594.4L996.3 611.5L1013.4 611.5ZM1010.2 594.4L1001.7 611.5L1018.8 611.5Z" fill="#ffa500" stroke="#ffa500" stroke-width="2.86" stroke-linejoin="miter"/>
<path d="M1063.5 592.8L1055.0 609.9L1072.1 609.9ZM1070.0 592.7L1061.4 609.8L1078.5 609.8ZM1073.7 593.3L1065.1 610.4L1082.2 610.4ZM1078.7 592.5L1070.2 609.6L1087.3 609.6ZM1082.9 594.3L1074.3 611.4L1091.4 611.4ZM1087.9 593.4L1079.4 610.5L1096.5 610.5ZM1094.0 592.3L1085.5 609.4L1102.6 609.4ZM1098.3 592.3L1089.8 609.4L1106.9 609.4ZM1103.2 593.1L1094.7 610.2L1111.8 610.2ZM1108.8 594.6L1100.3 611.7L1117.4 611.7ZM1113.0 592.3L1104.5 609.4L1121.6 609.4ZM1119.9 594.2L1111.3 611.3L1128.4 611.3ZM1123.9 592.7L1115.4 609.8L1132.5 609.8ZM1127.8 592.8L1119.3 609.9L1136.4 609.9ZM1132.8 593.6L1124.3 610.7L1141.4 610.7ZM1138.6 592.2L1130.1 609.3L1147.2 609.3ZM1145.1 594.6L1136.6 611.7L1153.7 611.7ZM1147.8 593.4L1139.3 610.5L1156.4 610.5ZM1154.7 592.6L1146.2 609.7L1163.3 609.7ZM1158.3 593.6L1149.7 610.7L1166.8 610.7ZM1163.4 594.3L1154.8 611.4L1171.9 611.4ZM1169.1 594.0L1160.6 611.1L1177.7 611.1ZM1172.8 593.3L1164.2 610.4L1181.3 610.4ZM1180.2 593.3L1171.6 610.4L1188.7 610.4ZM1183.9 594.5L1175.4 611.6L1192.5 611.6ZM1188.1 593.1L1179.6 610.2L1196.7 610.2ZM1194.1 592.7L1185.6 609.8L1202.7 609.8ZM1199.8 593.0L1191.3 610.1L1208.4 610.1ZM1204.6 594.4L1196.0 611.5L1213.1 611.5ZM1208.9 592.6L1200.3 609.7L1217.4 609.7ZM1213.9 594.1L1205.3 611.2L1222.4 611.2ZM1220.1 594.1L1211.5 611.2L1228.6 611.2ZM1223.6 594.7L1215.1 611.8L1232.2 611.8ZM1228.3 593.6L1219.7 610.7L1236.8 610.7ZM1233.5 593.4L1225.0 610.5L1242.1 610.5ZM1240.0 594.4L1231.4 611.5L1248.5 611.5ZM1243.2 593.7L1234.6 610.8L1251.7 610.8ZM1249.7 593.0L1241.1 610.1L1258.2 610.1ZM1254.6 593.8L1246.1 610.9L1263.2 610.9ZM1260.2 594.6L1251.7 611.7L1268.8 611.7ZM1264.2 592.2L1255.6 609.3L1272.7 609.3ZM1269.0 592.3L1260.4 609.4L1277.5 609.4ZM1275.0 594.6L1266.4 611.7L1283.5 611.7ZM1279.3 593.4L1270.7 610.5L1287.8 610.5ZM1283.6 592.9L1275.0 610.0L1292.1 610.0ZM1289.4 593.3L1280.8 610.4L1297.9 610.4ZM1295.1 593.0L1286.6 610.1L1303.7 610.1ZM1297.8 592.9L1289.2 610.0L1306.3 610.0Z" fill="#ffa500" stroke="#ffa500" stroke-width="2.86" stroke-linejoin="miter"/>
<path d="M1088.0 589.5L1079.5 606.5L1096.5 606.5ZM975.0 599.5L966.5 616.5L983.5 616.5ZM990.0 599.5L981.5 616.5L998.5 616.5ZM1085.0 599.5L1076.5 616.5L1093.5 616.5ZM1230.0 599.5L1221.5 616.5L1238.5 616.5ZM1050.0 597.5L1041.5 614.5L1058.5 614.5Z" fill="#ffa500" stroke="#ffa500" stroke-width="2.86" stroke-linejoin="miter"/>
<path d="M1340.6 585.3L1332.1 602.4L1349.2 602.4ZM1350.3 583.1L1341.8 600.2L1358.9 600.2ZM1362.0 584.6L1353.5 601.7L1370.6 601.7ZM1371.7 584.6L1363.2 601.7L1380.3 601.7ZM1380.6 583.3L1372.0 600.4L1389.1 600.4ZM1391.3 584.3L1382.7 601.4L1399.8 601.4ZM1402.2 583.0L1393.6 600.1L1410.7 600.1ZM1411.9 585.3L1403.3 602.4L1420.4 602.4ZM1419.7 584.3L1411.1 601.4L1428.2 601.4ZM1431.1 584.3L1422.6 601.4L1439.7 601.4ZM1441.2 584.9L1432.6 602.0L1449.7 602.0ZM1449.9 585.8L1441.3 602.9L1458.4 602.9ZM1460.8 585.4L1452.3 602.5L1469.4 602.5ZM1469.5 583.5L1461.0 600.6L1478.1 600.6ZM1481.9 583.8L1473.3 600.9L1490.4 600.9ZM1490.9 583.5L1482.3 600.6L1499.4 600.6ZM1500.8 585.6L1492.3 602.7L1509.4 602.7ZM1511.5 585.2L1502.9 602.3L1520.0 602.3ZM1522.3 583.0L1513.8 600.1L1530.9 600.1ZM1531.9 583.2L1523.4 600.3L1540.5 600.3ZM1540.0 584.5L1531.5 601.6L1548.6 601.6ZM1550.4 583.0L1541.8 600.1L1558.9 600.1Z" fill="#ffa500" stroke="#ffa500" stroke-width="2.86" stroke-linejoin="miter"/>
<path d="M1337.8 605.8L1329.3 622.9L1346.4 622.9ZM1346.0 606.0L1337.5 623.1L1354.6 623.1ZM1354.9 605.7L1346.3 622.8L1363.4 622.8ZM1361.2 605.5L1352.6 622.6L1369.7 622.6ZM1369.9 607.4L1361.4 624.5L1378.5 624.5ZM1377.3 605.7L1368.7 622.8L1385.8 622.8ZM1385.1 606.2L1376.6 623.3L1393.7 623.3ZM1393.3 607.2L1384.8 624.3L1401.9 624.3ZM1401.5 607.2L1393.0 624.3L1410.1 624.3ZM1409.2 607.3L1400.7 624.4L1417.8 624.4ZM1417.1 607.3L1408.5 624.4L1425.6 624.4ZM1427.0 606.8L1418.4 623.9L1435.5 623.9ZM1433.2 606.1L1424.7 623.2L1441.8 623.2ZM1441.7 606.7L1433.2 623.8L1450.3 623.8ZM1450.7 606.0L1442.2 623.1L1459.3 623.1ZM1458.8 607.1L1450.2 624.2L1467.3 624.2ZM1466.9 606.9L1458.3 624.0L1475.4 624.0ZM1474.9 606.7L1466.3 623.8L1483.4 623.8ZM1482.3 605.6L1473.8 622.7L1490.9 622.7ZM1489.6 606.2L1481.1 623.3L1498.2 623.3ZM1498.2 605.8L1489.7 622.9L1506.8 622.9ZM1505.5 606.9L1497.0 624.0L1514.1 624.0ZM1514.6 605.7L1506.1 622.8L1523.2 622.8ZM1522.4 605.8L1513.9 622.9L1531.0 622.9ZM1530.3 606.5L1521.7 623.6L1538.8 623.6ZM1537.1 606.4L1528.6 623.5L1545.7 623.5ZM1545.8 605.9L1537.2 623.0L1554.3 623.0ZM1553.4 607.1L1544.8 624.2L1561.9 624.2ZM1562.5 607.4L1553.9 624.5L1571.0 624.5ZM1569.3 607.2L1560.7 624.3L1577.8 624.3Z" fill="#ffa500" stroke="#ffa500" stroke-width="2.86" stroke-linejoin="miter"/>
<path d="M1747.7 496.4L1739.1 513.5L1756.2 513.5ZM1756.1 495.5L1747.5 512.6L1764.6 512.6ZM1764.8 495.5L1756.2 512.6L1773.3 512.6ZM1805.0 494.6L1796.4 511.7L1813.5 511.7ZM1812.0 494.5L1803.5 511.6L1820.6 511.6ZM1743.7 502.7L1735.1 519.8L1752.2 519.8ZM1751.7 503.2L1743.1 520.3L1760.2 520.3ZM1759.2 503.3L1750.6 520.4L1767.7 520.4ZM1767.0 503.4L1758.5 520.5L1775.6 520.5ZM1800.2 502.3L1791.7 519.4L1808.8 519.4ZM1808.8 501.5L1800.2 518.6L1817.3 518.6ZM1816.8 502.8L1808.3 519.9L1825.4 519.9ZM1740.1 509.1L1731.6 526.2L1748.7 526.2ZM1747.8 508.8L1739.3 525.9L1756.4 525.9ZM1755.9 509.6L1747.3 526.7L1764.4 526.7ZM1763.1 510.3L1754.5 527.4L1771.6 527.4ZM1795.7 508.5L1787.1 525.6L1804.2 525.6ZM1803.3 509.5L1794.8 526.6L1811.9 526.6ZM1812.1 509.8L1803.6 526.9L1820.7 526.9ZM1735.7 516.0L1727.2 533.1L1744.3 533.1ZM1744.3 516.4L1735.8 533.5L1752.9 533.5ZM1751.0 517.2L1742.5 534.3L1759.6 534.3ZM1760.1 517.4L1751.5 534.5L1768.6 534.5ZM1768.4 516.8L1759.8 533.9L1776.9 533.9ZM1800.0 515.5L1791.4 532.6L1808.5 532.6ZM1808.7 516.7L1800.2 533.8L1817.3 533.8ZM1817.0 516.3L1808.4 533.4L1825.5 533.4ZM1741.0 522.7L1732.4 539.8L1749.5 539.8ZM1748.9 523.2L1740.4 540.3L1757.5 540.3ZM1755.0 523.3L1746.5 540.4L1763.6 540.4ZM1764.3 523.8L1755.7 540.9L1772.8 540.9ZM1771.9 523.6L1763.3 540.7L1780.4 540.7ZM1795.2 522.9L1786.7 540.0L1803.8 540.0ZM1803.8 523.7L1795.2 540.8L1812.3 540.8ZM1811.9 524.0L1803.3 541.1L1820.4 541.1ZM1736.6 530.2L1728.0 547.3L1745.1 547.3ZM1743.6 530.1L1735.1 547.2L1752.2 547.2ZM1751.5 529.9L1742.9 547.0L1760.0 547.0ZM1760.2 531.2L1751.7 548.3L1768.8 548.3ZM1768.5 531.1L1760.0 548.2L1777.1 548.2ZM1791.8 531.4L1783.2 548.5L1800.3 548.5ZM1799.6 531.0L1791.1 548.1L1808.2 548.1ZM1807.4 530.8L1798.9 547.9L1816.0 547.9ZM1816.7 530.0L1808.2 547.1L1825.3 547.1ZM1731.5 537.4L1723.0 554.5L1740.1 554.5ZM1739.3 538.1L1730.7 555.2L1747.8 555.2ZM1748.9 536.5L1740.4 553.6L1757.5 553.6ZM1756.6 537.5L1748.0 554.6L1765.1 554.6ZM1764.4 538.4L1755.8 555.5L1772.9 555.5ZM1771.5 537.7L1763.0 554.8L1780.1 554.8ZM1787.9 537.4L1779.4 554.5L1796.5 554.5ZM1796.6 538.2L1788.1 555.3L1805.2 555.3ZM1803.0 538.0L1794.5 555.1L1811.6 555.1ZM1812.1 537.2L1803.5 554.3L1820.6 554.3ZM1735.6 543.6L1727.0 560.7L1744.1 560.7ZM1744.0 544.6L1735.4 561.7L1752.5 561.7ZM1752.7 544.0L1744.2 561.1L1761.3 561.1ZM1760.5 543.7L1752.0 560.8L1769.1 560.8ZM1767.7 545.3L1759.2 562.4L1776.3 562.4ZM1776.0 545.2L1767.5 562.3L1784.6 562.3ZM1783.9 544.5L1775.4 561.6L1792.5 561.6ZM1791.1 544.8L1782.6 561.9L1799.7 561.9ZM1800.1 543.8L1791.6 560.9L1808.7 560.9ZM1807.5 545.4L1799.0 562.5L1816.1 562.5ZM1815.2 543.7L1806.7 560.8L1823.8 560.8ZM1732.8 552.3L1724.2 569.4L1741.3 569.4ZM1740.1 550.6L1731.5 567.7L1748.6 567.7ZM1748.3 551.4L1739.8 568.5L1756.9 568.5ZM1755.4 552.0L1746.8 569.1L1763.9 569.1ZM1765.0 552.2L1756.4 569.3L1773.5 569.3ZM1771.3 551.6L1762.7 568.7L1779.8 568.7ZM1779.6 552.0L1771.1 569.1L1788.2 569.1ZM1788.8 551.0L1780.3 568.1L1797.4 568.1ZM1795.1 551.9L1786.6 569.0L1803.7 569.0ZM1804.0 551.6L1795.4 568.7L1812.5 568.7ZM1812.6 551.5L1804.0 568.6L1821.1 568.6ZM1820.7 552.3L1812.2 569.4L1829.3 569.4ZM1736.6 557.6L1728.0 574.7L1745.1 574.7ZM1743.5 558.6L1735.0 575.7L1752.1 575.7ZM1752.5 558.6L1743.9 575.7L1761.0 575.7ZM1760.1 559.3L1751.6 576.4L1768.7 576.4ZM1768.1 558.8L1759.5 575.9L1776.6 575.9ZM1776.9 558.1L1768.3 575.2L1785.4 575.2ZM1784.5 558.7L1775.9 575.8L1793.0 575.8ZM1791.1 559.1L1782.6 576.2L1799.7 576.2ZM1800.2 558.6L1791.6 575.7L1808.7 575.7ZM1808.2 557.7L1799.6 574.8L1816.7 574.8ZM1816.9 559.2L1808.3 576.3L1825.4 576.3ZM1824.3 558.4L1815.8 575.5L1832.9 575.5ZM1731.7 565.9L1723.1 583.0L1740.2 583.0ZM1740.2 565.1L1731.7 582.2L1748.8 582.2ZM1748.7 564.5L1740.1 581.6L1757.2 581.6ZM1756.2 565.3L1747.6 582.4L1764.7 582.4ZM1763.2 564.8L1754.7 581.9L1771.8 581.9ZM1772.8 566.4L1764.2 583.5L1781.3 583.5ZM1779.9 564.5L1771.4 581.6L1788.5 581.6ZM1788.4 566.3L1779.9 583.4L1797.0 583.4ZM1795.7 564.6L1787.1 581.7L1804.2 581.7ZM1803.1 565.6L1794.5 582.7L1811.6 582.7ZM1811.8 565.9L1803.3 583.0L1820.4 583.0ZM1819.4 564.9L1810.8 582.0L1827.9 582.0ZM1735.0 572.5L1726.5 589.6L1743.6 589.6ZM1744.8 572.3L1736.3 589.4L1753.4 589.4ZM1751.2 573.1L1742.6 590.2L1759.7 590.2ZM1760.1 573.1L1751.6 590.2L1768.7 590.2ZM1768.4 573.4L1759.9 590.5L1777.0 590.5ZM1775.5 571.5L1766.9 588.6L1784.0 588.6ZM1784.6 572.7L1776.0 589.8L1793.1 589.8ZM1792.0 572.1L1783.5 589.2L1800.6 589.2ZM1799.8 572.5L1791.3 589.6L1808.4 589.6ZM1808.7 571.5L1800.1 588.6L1817.2 588.6ZM1816.7 571.6L1808.1 588.7L1825.2 588.7ZM1825.0 573.0L1816.4 590.1L1833.5 590.1Z" fill="#ffa500" stroke="#ffa500" stroke-width="2.86" stroke-linejoin="miter"/>
<path d="M1927.0 531.5L1918.5 548.5L1935.5 548.5ZM1942.0 529.5L1933.5 546.5L1950.5 546.5ZM1968.0 516.5L1959.5 533.5L1976.5 533.5ZM1978.0 525.5L1969.5 542.5L1986.5 542.5ZM1993.0 527.5L1984.5 544.5L2001.5 544.5ZM2008.0 527.5L1999.5 544.5L2016.5 544.5ZM1915.0 556.5L1906.5 573.5L1923.5 573.5ZM1922.0 547.5L1913.5 564.5L1930.5 564.5ZM1930.0 539.5L1921.5 556.5L1938.5 556.5ZM1920.0 539.5L1911.5 556.5L1928.5 556.5ZM1960.0 536.5L1951.5 553.5L1968.5 553.5ZM1970.0 531.5L1961.5 548.5L1978.5 548.5ZM1980.0 539.5L1971.5 556.5L1988.5 556.5ZM1972.0 551.5L1963.5 568.5L1980.5 568.5ZM1980.0 561.5L1971.5 578.5L1988.5 578.5ZM1985.0 556.5L1976.5 573.5L1993.5 573.5ZM1975.0 546.5L1966.5 563.5L1983.5 563.5ZM2000.0 539.5L1991.5 556.5L2008.5 556.5ZM2010.0 536.5L2001.5 553.5L2018.5 553.5ZM2012.0 549.5L2003.5 566.5L2020.5 566.5ZM1950.0 531.5L1941.5 548.5L1958.5 548.5ZM1955.0 526.5L1946.5 543.5L1963.5 543.5ZM1985.0 531.5L1976.5 548.5L1993.5 548.5ZM1935.0 536.5L1926.5 553.5L1943.5 553.5ZM1947.0 537.5L1938.5 554.5L1955.5 554.5ZM1990.0 541.5L1981.5 558.5L1998.5 558.5ZM1968.0 559.5L1959.5 576.5L1976.5 576.5ZM1917.0 561.5L1908.5 578.5L1925.5 578.5Z" fill="#ffa500" stroke="#ffa500" stroke-width="2.86" stroke-linejoin="miter"/>
<path d="M825.0 571.5L840.0 577.0L860.0 578.5L880.0 576.0L900.0 579.5L920.0 576.5L940.0 578.5L960.0 577.0L980.0 578.5L1007.0 577.0" fill="none" stroke="#ffa500" stroke-width="4.29" stroke-linejoin="round"/>
<path d="M819.1 569.8a5.7 5.7 0 1 0 11.4 0a5.7 5.7 0 1 0 -11.4 0M823.8 573.7a5.7 5.7 0 1 0 11.4 0a5.7 5.7 0 1 0 -11.4 0M827.1 574.0a5.7 5.7 0 1 0 11.4 0a5.7 5.7 0 1 0 -11.4 0M831.0 576.6a5.7 5.7 0 1 0 11.4 0a5.7 5.7 0 1 0 -11.4 0M834.4 575.6a5.7 5.7 0 1 0 11.4 0a5.7 5.7 0 1 0 -11.4 0M838.2 577.5a5.7 5.7 0 1 0 11.4 0a5.7 5.7 0 1 0 -11.4 0M841.6 577.4a5.7 5.7 0 1 0 11.4 0a5.7 5.7 0 1 0 -11.4 0M846.2 579.8a5.7 5.7 0 1 0 11.4 0a5.7 5.7 0 1 0 -11.4 0M849.7 577.3a5.7 5.7 0 1 0 11.4 0a5.7 5.7 0 1 0 -11.4 0M855.0 578.4a5.7 5.7 0 1 0 11.4 0a5.7 5.7 0 1 0 -11.4 0M857.9 577.4a5.7 5.7 0 1 0 11.4 0a5.7 5.7 0 1 0 -11.4 0M862.9 578.2a5.7 5.7 0 1 0 11.4 0a5.7 5.7 0 1 0 -11.4 0M866.7 576.9a5.7 5.7 0 1 0 11.4 0a5.7 5.7 0 1 0 -11.4 0M870.8 578.9a5.7 5.7 0 1 0 11.4 0a5.7 5.7 0 1 0 -11.4 0M873.8 575.6a5.7 5.7 0 1 0 11.4 0a5.7 5.7 0 1 0 -11.4 0M878.2 577.3a5.7 5.7 0 1 0 11.4 0a5.7 5.7 0 1 0 -11.4 0M883.0 576.5a5.7 5.7 0 1 0 11.4 0a5.7 5.7 0 1 0 -11.4 0M885.6 580.4a5.7 5.7 0 1 0 11.4 0a5.7 5.7 0 1 0 -11.4 0M890.9 581.0a5.7 5.7 0 1 0 11.4 0a5.7 5.7 0 1 0 -11.4 0M893.8 577.4a5.7 5.7 0 1 0 11.4 0a5.7 5.7 0 1 0 -11.4 0M898.5 580.0a5.7 5.7 0 1 0 11.4 0a5.7 5.7 0 1 0 -11.4 0M903.0 578.4a5.7 5.7 0 1 0 11.4 0a5.7 5.7 0 1 0 -11.4 0M906.8 577.0a5.7 5.7 0 1 0 11.4 0a5.7 5.7 0 1 0 -11.4 0M910.5 577.9a5.7 5.7 0 1 0 11.4 0a5.7 5.7 0 1 0 -11.4 0M913.8 576.7a5.7 5.7 0 1 0 11.4 0a5.7 5.7 0 1 0 -11.4 0M918.0 578.7a5.7 5.7 0 1 0 11.4 0a5.7 5.7 0 1 0 -11.4 0M922.8 577.0a5.7 5.7 0 1 0 11.4 0a5.7 5.7 0 1 0 -11.4 0M926.7 576.4a5.7 5.7 0 1 0 11.4 0a5.7 5.7 0 1 0 -11.4 0M930.9 575.6a5.7 5.7 0 1 0 11.4 0a5.7 5.7 0 1 0 -11.4 0M934.6 576.3a5.7 5.7 0 1 0 11.4 0a5.7 5.7 0 1 0 -11.4 0M937.9 580.3a5.7 5.7 0 1 0 11.4 0a5.7 5.7 0 1 0 -11.4 0M942.5 575.4a5.7 5.7 0 1 0 11.4 0a5.7 5.7 0 1 0 -11.4 0M945.8 579.2a5.7 5.7 0 1 0 11.4 0a5.7 5.7 0 1 0 -11.4 0M950.3 579.2a5.7 5.7 0 1 0 11.4 0a5.7 5.7 0 1 0 -11.4 0M953.7 579.1a5.7 5.7 0 1 0 11.4 0a5.7 5.7 0 1 0 -11.4 0M958.8 577.5a5.7 5.7 0 1 0 11.4 0a5.7 5.7 0 1 0 -11.4 0M962.4 576.0a5.7 5.7 0 1 0 11.4 0a5.7 5.7 0 1 0 -11.4 0M966.5 577.4a5.7 5.7 0 1 0 11.4 0a5.7 5.7 0 1 0 -11.4 0M969.7 577.2a5.7 5.7 0 1 0 11.4 0a5.7 5.7 0 1 0 -11.4 0M974.8 577.9a5.7 5.7 0 1 0 11.4 0a5.7 5.7 0 1 0 -11.4 0M978.3 576.5a5.7 5.7 0 1 0 11.4 0a5.7 5.7 0 1 0 -11.4 0M982.7 576.4a5.7 5.7 0 1 0 11.4 0a5.7 5.7 0 1 0 -11.4 0M985.4 576.6a5.7 5.7 0 1 0 11.4 0a5.7 5.7 0 1 0 -11.4 0M990.1 578.8a5.7 5.7 0 1 0 11.4 0a5.7 5.7 0 1 0 -11.4 0M993.8 579.1a5.7 5.7 0 1 0 11.4 0a5.7 5.7 0 1 0 -11.4 0M998.0 576.7a5.7 5.7 0 1 0 11.4 0a5.7 5.7 0 1 0 -11.4 0M1001.3 577.0a5.7 5.7 0 1 0 11.4 0a5.7 5.7 0 1 0 -11.4 0" fill="#ffa500"/>
<path d="M1007.0 577.0L1062.0 577.0" fill="none" stroke="#ffa500" stroke-width="4.29" stroke-linejoin="round"/>
<path d="M1062.5 578.0L1090.0 577.5L1120.0 579.0L1150.0 578.5L1180.0 580.0L1210.0 577.5L1240.0 579.0L1270.0 578.5L1295.0 577.0" fill="none" stroke="#ffa500" stroke-width="4.29" stroke-linejoin="round"/>
<path d="M1057.2 577.6a5.7 5.7 0 1 0 11.4 0a5.7 5.7 0 1 0 -11.4 0M1061.1 579.6a5.7 5.7 0 1 0 11.4 0a5.7 5.7 0 1 0 -11.4 0M1064.2 576.1a5.7 5.7 0 1 0 11.4 0a5.7 5.7 0 1 0 -11.4 0M1069.3 576.0a5.7 5.7 0 1 0 11.4 0a5.7 5.7 0 1 0 -11.4 0M1072.9 578.8a5.7 5.7 0 1 0 11.4 0a5.7 5.7 0 1 0 -11.4 0M1076.7 575.5a5.7 5.7 0 1 0 11.4 0a5.7 5.7 0 1 0 -11.4 0M1080.2 576.4a5.7 5.7 0 1 0 11.4 0a5.7 5.7 0 1 0 -11.4 0M1083.8 576.8a5.7 5.7 0 1 0 11.4 0a5.7 5.7 0 1 0 -11.4 0M1088.6 576.4a5.7 5.7 0 1 0 11.4 0a5.7 5.7 0 1 0 -11.4 0M1091.8 579.9a5.7 5.7 0 1 0 11.4 0a5.7 5.7 0 1 0 -11.4 0M1095.5 580.1a5.7 5.7 0 1 0 11.4 0a5.7 5.7 0 1 0 -11.4 0M1098.6 577.6a5.7 5.7 0 1 0 11.4 0a5.7 5.7 0 1 0 -11.4 0M1102.8 578.5a5.7 5.7 0 1 0 11.4 0a5.7 5.7 0 1 0 -11.4 0M1107.4 576.5a5.7 5.7 0 1 0 11.4 0a5.7 5.7 0 1 0 -11.4 0M1109.9 578.7a5.7 5.7 0 1 0 11.4 0a5.7 5.7 0 1 0 -11.4 0M1113.8 577.8a5.7 5.7 0 1 0 11.4 0a5.7 5.7 0 1 0 -11.4 0M1118.4 579.7a5.7 5.7 0 1 0 11.4 0a5.7 5.7 0 1 0 -11.4 0M1121.2 577.1a5.7 5.7 0 1 0 11.4 0a5.7 5.7 0 1 0 -11.4 0M1125.9 576.4a5.7 5.7 0 1 0 11.4 0a5.7 5.7 0 1 0 -11.4 0M1129.5 576.7a5.7 5.7 0 1 0 11.4 0a5.7 5.7 0 1 0 -11.4 0M1132.6 579.1a5.7 5.7 0 1 0 11.4 0a5.7 5.7 0 1 0 -11.4 0M1136.7 576.4a5.7 5.7 0 1 0 11.4 0a5.7 5.7 0 1 0 -11.4 0M1140.3 576.9a5.7 5.7 0 1 0 11.4 0a5.7 5.7 0 1 0 -11.4 0M1144.9 580.6a5.7 5.7 0 1 0 11.4 0a5.7 5.7 0 1 0 -11.4 0M1147.8 579.2a5.7 5.7 0 1 0 11.4 0a5.7 5.7 0 1 0 -11.4 0M1152.2 576.6a5.7 5.7 0 1 0 11.4 0a5.7 5.7 0 1 0 -11.4 0M1156.3 580.8a5.7 5.7 0 1 0 11.4 0a5.7 5.7 0 1 0 -11.4 0M1159.8 581.1a5.7 5.7 0 1 0 11.4 0a5.7 5.7 0 1 0 -11.4 0M1163.8 577.2a5.7 5.7 0 1 0 11.4 0a5.7 5.7 0 1 0 -11.4 0M1166.1 580.0a5.7 5.7 0 1 0 11.4 0a5.7 5.7 0 1 0 -11.4 0M1170.6 580.6a5.7 5.7 0 1 0 11.4 0a5.7 5.7 0 1 0 -11.4 0M1174.6 578.9a5.7 5.7 0 1 0 11.4 0a5.7 5.7 0 1 0 -11.4 0M1178.1 579.4a5.7 5.7 0 1 0 11.4 0a5.7 5.7 0 1 0 -11.4 0M1182.1 580.2a5.7 5.7 0 1 0 11.4 0a5.7 5.7 0 1 0 -11.4 0M1185.1 577.0a5.7 5.7 0 1 0 11.4 0a5.7 5.7 0 1 0 -11.4 0M1189.4 579.2a5.7 5.7 0 1 0 11.4 0a5.7 5.7 0 1 0 -11.4 0M1192.8 580.1a5.7 5.7 0 1 0 11.4 0a5.7 5.7 0 1 0 -11.4 0M1197.1 580.5a5.7 5.7 0 1 0 11.4 0a5.7 5.7 0 1 0 -11.4 0M1199.9 575.4a5.7 5.7 0 1 0 11.4 0a5.7 5.7 0 1 0 -11.4 0M1204.1 579.3a5.7 5.7 0 1 0 11.4 0a5.7 5.7 0 1 0 -11.4 0M1208.1 576.7a5.7 5.7 0 1 0 11.4 0a5.7 5.7 0 1 0 -11.4 0M1212.0 576.8a5.7 5.7 0 1 0 11.4 0a5.7 5.7 0 1 0 -11.4 0M1215.9 578.3a5.7 5.7 0 1 0 11.4 0a5.7 5.7 0 1 0 -11.4 0M1218.7 576.3a5.7 5.7 0 1 0 11.4 0a5.7 5.7 0 1 0 -11.4 0M1223.5 578.8a5.7 5.7 0 1 0 11.4 0a5.7 5.7 0 1 0 -11.4 0M1226.2 579.9a5.7 5.7 0 1 0 11.4 0a5.7 5.7 0 1 0 -11.4 0M1230.5 580.4a5.7 5.7 0 1 0 11.4 0a5.7 5.7 0 1 0 -11.4 0M1234.1 581.2a5.7 5.7 0 1 0 11.4 0a5.7 5.7 0 1 0 -11.4 0M1238.2 579.5a5.7 5.7 0 1 0 11.4 0a5.7 5.7 0 1 0 -11.4 0M1242.2 579.9a5.7 5.7 0 1 0 11.4 0a5.7 5.7 0 1 0 -11.4 0M1245.2 579.5a5.7 5.7 0 1 0 11.4 0a5.7 5.7 0 1 0 -11.4 0M1249.2 577.7a5.7 5.7 0 1 0 11.4 0a5.7 5.7 0 1 0 -11.4 0M1253.5 577.3a5.7 5.7 0 1 0 11.4 0a5.7 5.7 0 1 0 -11.4 0M1256.7 579.5a5.7 5.7 0 1 0 11.4 0a5.7 5.7 0 1 0 -11.4 0M1260.8 577.3a5.7 5.7 0 1 0 11.4 0a5.7 5.7 0 1 0 -11.4 0M1263.7 577.9a5.7 5.7 0 1 0 11.4 0a5.7 5.7 0 1 0 -11.4 0M1267.7 577.9a5.7 5.7 0 1 0 11.4 0a5.7 5.7 0 1 0 -11.4 0M1270.9 579.7a5.7 5.7 0 1 0 11.4 0a5.7 5.7 0 1 0 -11.4 0M1275.7 577.0a5.7 5.7 0 1 0 11.4 0a5.7 5.7 0 1 0 -11.4 0M1278.6 579.5a5.7 5.7 0 1 0 11.4 0a5.7 5.7 0 1 0 -11.4 0M1282.1 577.4a5.7 5.7 0 1 0 11.4 0a5.7 5.7 0 1 0 -11.4 0M1286.0 576.0a5.7 5.7 0 1 0 11.4 0a5.7 5.7 0 1 0 -11.4 0M1289.3 577.0a5.7 5.7 0 1 0 11.4 0a5.7 5.7 0 1 0 -11.4 0" fill="#ffa500"/>
<path d="M1277.3 574.0a5.7 5.7 0 1 0 11.4 0a5.7 5.7 0 1 0 -11.4 0M1284.3 576.0a5.7 5.7 0 1 0 11.4 0a5.7 5.7 0 1 0 -11.4 0M1334.3 580.0a5.7 5.7 0 1 0 11.4 0a5.7 5.7 0 1 0 -11.4 0M1330.3 588.0a5.7 5.7 0 1 0 11.4 0a5.7 5.7 0 1 0 -11.4 0" fill="#ffa500"/>
<path d="M1566.0 577.5L1715.7 580.8" fill="none" stroke="#ffa500" stroke-width="4.29" stroke-linejoin="round"/>
<path d="M1560.3 577.5a5.7 5.7 0 1 0 11.4 0a5.7 5.7 0 1 0 -11.4 0" fill="#ffa500"/>
<path d="M1715.7 580.8L1722.0 570.0L1728.8 552.6L1732.6 522.6L1740.0 498.2L1751.3 500.0L1760.7 490.7L1768.2 485.0L1772.0 505.7L1775.7 530.1L1777.6 552.6" fill="none" stroke="#ffa500" stroke-width="4.29" stroke-linejoin="round"/>
<path d="M1710.1 579.6a5.7 5.7 0 1 0 11.4 0a5.7 5.7 0 1 0 -11.4 0M1711.7 577.8a5.7 5.7 0 1 0 11.4 0a5.7 5.7 0 1 0 -11.4 0M1712.9 574.4a5.7 5.7 0 1 0 11.4 0a5.7 5.7 0 1 0 -11.4 0M1714.4 574.5a5.7 5.7 0 1 0 11.4 0a5.7 5.7 0 1 0 -11.4 0M1716.2 568.5a5.7 5.7 0 1 0 11.4 0a5.7 5.7 0 1 0 -11.4 0M1718.0 566.6a5.7 5.7 0 1 0 11.4 0a5.7 5.7 0 1 0 -11.4 0M1718.8 563.3a5.7 5.7 0 1 0 11.4 0a5.7 5.7 0 1 0 -11.4 0M1719.8 562.4a5.7 5.7 0 1 0 11.4 0a5.7 5.7 0 1 0 -11.4 0M1720.8 559.4a5.7 5.7 0 1 0 11.4 0a5.7 5.7 0 1 0 -11.4 0M1721.9 556.3a5.7 5.7 0 1 0 11.4 0a5.7 5.7 0 1 0 -11.4 0M1723.4 551.9a5.7 5.7 0 1 0 11.4 0a5.7 5.7 0 1 0 -11.4 0M1723.7 547.9a5.7 5.7 0 1 0 11.4 0a5.7 5.7 0 1 0 -11.4 0M1723.8 548.1a5.7 5.7 0 1 0 11.4 0a5.7 5.7 0 1 0 -11.4 0M1724.4 544.6a5.7 5.7 0 1 0 11.4 0a5.7 5.7 0 1 0 -11.4 0M1724.3 539.0a5.7 5.7 0 1 0 11.4 0a5.7 5.7 0 1 0 -11.4 0M1725.1 538.9a5.7 5.7 0 1 0 11.4 0a5.7 5.7 0 1 0 -11.4 0M1725.2 535.9a5.7 5.7 0 1 0 11.4 0a5.7 5.7 0 1 0 -11.4 0M1726.1 533.5a5.7 5.7 0 1 0 11.4 0a5.7 5.7 0 1 0 -11.4 0M1726.3 528.6a5.7 5.7 0 1 0 11.4 0a5.7 5.7 0 1 0 -11.4 0M1726.8 525.2a5.7 5.7 0 1 0 11.4 0a5.7 5.7 0 1 0 -11.4 0M1726.9 521.1a5.7 5.7 0 1 0 11.4 0a5.7 5.7 0 1 0 -11.4 0M1727.8 520.4a5.7 5.7 0 1 0 11.4 0a5.7 5.7 0 1 0 -11.4 0M1728.7 517.5a5.7 5.7 0 1 0 11.4 0a5.7 5.7 0 1 0 -11.4 0M1729.1 512.9a5.7 5.7 0 1 0 11.4 0a5.7 5.7 0 1 0 -11.4 0M1730.4 511.6a5.7 5.7 0 1 0 11.4 0a5.7 5.7 0 1 0 -11.4 0M1731.3 506.4a5.7 5.7 0 1 0 11.4 0a5.7 5.7 0 1 0 -11.4 0M1732.0 504.0a5.7 5.7 0 1 0 11.4 0a5.7 5.7 0 1 0 -11.4 0M1733.7 501.2a5.7 5.7 0 1 0 11.4 0a5.7 5.7 0 1 0 -11.4 0M1734.1 497.0a5.7 5.7 0 1 0 11.4 0a5.7 5.7 0 1 0 -11.4 0M1738.7 500.3a5.7 5.7 0 1 0 11.4 0a5.7 5.7 0 1 0 -11.4 0M1742.3 499.4a5.7 5.7 0 1 0 11.4 0a5.7 5.7 0 1 0 -11.4 0M1745.3 498.1a5.7 5.7 0 1 0 11.4 0a5.7 5.7 0 1 0 -11.4 0M1748.3 498.6a5.7 5.7 0 1 0 11.4 0a5.7 5.7 0 1 0 -11.4 0M1750.4 495.9a5.7 5.7 0 1 0 11.4 0a5.7 5.7 0 1 0 -11.4 0M1752.1 492.0a5.7 5.7 0 1 0 11.4 0a5.7 5.7 0 1 0 -11.4 0M1755.6 489.3a5.7 5.7 0 1 0 11.4 0a5.7 5.7 0 1 0 -11.4 0M1757.0 488.5a5.7 5.7 0 1 0 11.4 0a5.7 5.7 0 1 0 -11.4 0M1760.4 487.0a5.7 5.7 0 1 0 11.4 0a5.7 5.7 0 1 0 -11.4 0M1763.0 486.2a5.7 5.7 0 1 0 11.4 0a5.7 5.7 0 1 0 -11.4 0M1763.3 489.1a5.7 5.7 0 1 0 11.4 0a5.7 5.7 0 1 0 -11.4 0M1763.5 490.9a5.7 5.7 0 1 0 11.4 0a5.7 5.7 0 1 0 -11.4 0M1763.6 493.7a5.7 5.7 0 1 0 11.4 0a5.7 5.7 0 1 0 -11.4 0M1765.1 496.6a5.7 5.7 0 1 0 11.4 0a5.7 5.7 0 1 0 -11.4 0M1765.0 498.8a5.7 5.7 0 1 0 11.4 0a5.7 5.7 0 1 0 -11.4 0M1766.1 502.0a5.7 5.7 0 1 0 11.4 0a5.7 5.7 0 1 0 -11.4 0M1765.8 506.1a5.7 5.7 0 1 0 11.4 0a5.7 5.7 0 1 0 -11.4 0M1766.9 509.2a5.7 5.7 0 1 0 11.4 0a5.7 5.7 0 1 0 -11.4 0M1767.7 513.1a5.7 5.7 0 1 0 11.4 0a5.7 5.7 0 1 0 -11.4 0M1767.4 516.4a5.7 5.7 0 1 0 11.4 0a5.7 5.7 0 1 0 -11.4 0M1767.6 518.9a5.7 5.7 0 1 0 11.4 0a5.7 5.7 0 1 0 -11.4 0M1768.9 521.0a5.7 5.7 0 1 0 11.4 0a5.7 5.7 0 1 0 -11.4 0M1769.0 524.4a5.7 5.7 0 1 0 11.4 0a5.7 5.7 0 1 0 -11.4 0M1769.7 528.2a5.7 5.7 0 1 0 11.4 0a5.7 5.7 0 1 0 -11.4 0M1769.5 531.0a5.7 5.7 0 1 0 11.4 0a5.7 5.7 0 1 0 -11.4 0M1770.5 531.5a5.7 5.7 0 1 0 11.4 0a5.7 5.7 0 1 0 -11.4 0M1770.5 534.9a5.7 5.7 0 1 0 11.4 0a5.7 5.7 0 1 0 -11.4 0M1770.4 541.5a5.7 5.7 0 1 0 11.4 0a5.7 5.7 0 1 0 -11.4 0M1771.5 541.7a5.7 5.7 0 1 0 11.4 0a5.7 5.7 0 1 0 -11.4 0M1771.6 545.2a5.7 5.7 0 1 0 11.4 0a5.7 5.7 0 1 0 -11.4 0M1771.8 548.2a5.7 5.7 0 1 0 11.4 0a5.7 5.7 0 1 0 -11.4 0M1771.9 552.6a5.7 5.7 0 1 0 11.4 0a5.7 5.7 0 1 0 -11.4 0" fill="#ffa500"/>
<path d="M1729.4 529.4a5.7 5.7 0 1 0 11.4 0a5.7 5.7 0 1 0 -11.4 0M1730.2 527.3a5.7 5.7 0 1 0 11.4 0a5.7 5.7 0 1 0 -11.4 0M1731.5 524.0a5.7 5.7 0 1 0 11.4 0a5.7 5.7 0 1 0 -11.4 0M1732.4 520.4a5.7 5.7 0 1 0 11.4 0a5.7 5.7 0 1 0 -11.4 0M1733.0 517.4a5.7 5.7 0 1 0 11.4 0a5.7 5.7 0 1 0 -11.4 0M1734.0 514.6a5.7 5.7 0 1 0 11.4 0a5.7 5.7 0 1 0 -11.4 0M1737.9 514.5a5.7 5.7 0 1 0 11.4 0a5.7 5.7 0 1 0 -11.4 0M1741.5 510.8a5.7 5.7 0 1 0 11.4 0a5.7 5.7 0 1 0 -11.4 0M1744.7 511.5a5.7 5.7 0 1 0 11.4 0a5.7 5.7 0 1 0 -11.4 0M1748.0 508.9a5.7 5.7 0 1 0 11.4 0a5.7 5.7 0 1 0 -11.4 0M1751.0 505.9a5.7 5.7 0 1 0 11.4 0a5.7 5.7 0 1 0 -11.4 0M1754.4 506.6a5.7 5.7 0 1 0 11.4 0a5.7 5.7 0 1 0 -11.4 0M1754.9 507.6a5.7 5.7 0 1 0 11.4 0a5.7 5.7 0 1 0 -11.4 0M1755.8 512.3a5.7 5.7 0 1 0 11.4 0a5.7 5.7 0 1 0 -11.4 0M1757.3 513.6a5.7 5.7 0 1 0 11.4 0a5.7 5.7 0 1 0 -11.4 0M1758.4 518.1a5.7 5.7 0 1 0 11.4 0a5.7 5.7 0 1 0 -11.4 0M1759.6 522.0a5.7 5.7 0 1 0 11.4 0a5.7 5.7 0 1 0 -11.4 0M1759.4 524.0a5.7 5.7 0 1 0 11.4 0a5.7 5.7 0 1 0 -11.4 0M1760.3 527.3a5.7 5.7 0 1 0 11.4 0a5.7 5.7 0 1 0 -11.4 0M1761.3 531.4a5.7 5.7 0 1 0 11.4 0a5.7 5.7 0 1 0 -11.4 0M1761.8 534.3a5.7 5.7 0 1 0 11.4 0a5.7 5.7 0 1 0 -11.4 0M1761.9 535.2a5.7 5.7 0 1 0 11.4 0a5.7 5.7 0 1 0 -11.4 0M1762.3 540.0a5.7 5.7 0 1 0 11.4 0a5.7 5.7 0 1 0 -11.4 0" fill="#ffa500"/>
<path d="M1809.3 492.0a5.7 5.7 0 1 0 11.4 0a5.7 5.7 0 1 0 -11.4 0M1814.3 505.0a5.7 5.7 0 1 0 11.4 0a5.7 5.7 0 1 0 -11.4 0M1820.3 518.0a5.7 5.7 0 1 0 11.4 0a5.7 5.7 0 1 0 -11.4 0M1824.5 520.7a5.7 5.7 0 1 0 11.4 0a5.7 5.7 0 1 0 -11.4 0M1816.3 533.0a5.7 5.7 0 1 0 11.4 0a5.7 5.7 0 1 0 -11.4 0M1812.3 545.0a5.7 5.7 0 1 0 11.4 0a5.7 5.7 0 1 0 -11.4 0" fill="#ffa500"/>
<path d="M1830.0 519.5L1916.5 518.3" fill="none" stroke="#ffa500" stroke-width="4.29" stroke-linejoin="round"/>
<path d="M1741,557 L1752,548 1762.8,546 1762.8,572 1757,588 1752,594 1738,594 1740.9,572Z" fill="#fff"/>
<path d="M1740.0 590.0a5.7 5.7 0 1 0 11.4 0a5.7 5.7 0 1 0 -11.4 0M1797.3 558.0a5.7 5.7 0 1 0 11.4 0a5.7 5.7 0 1 0 -11.4 0M1800.3 568.0a5.7 5.7 0 1 0 11.4 0a5.7 5.7 0 1 0 -11.4 0M1804.3 578.0a5.7 5.7 0 1 0 11.4 0a5.7 5.7 0 1 0 -11.4 0M1806.3 587.0a5.7 5.7 0 1 0 11.4 0a5.7 5.7 0 1 0 -11.4 0" fill="#000000"/>
<path d="M1916.5 518.3L1920.2 500.0L1925.9 496.3L1929.6 515.1L1939.0 518.8L1950.3 507.6L1957.8 485.0L1961.5 473.8L1965.3 460.6L1976.5 468.2L1987.8 475.7L2000.9 470.0L2006.6 481.3L2010.3 492.6" fill="none" stroke="#ffa500" stroke-width="4.29" stroke-linejoin="round"/>
<path d="M1910.9 518.0a5.7 5.7 0 1 0 11.4 0a5.7 5.7 0 1 0 -11.4 0M1911.4 516.3a5.7 5.7 0 1 0 11.4 0a5.7 5.7 0 1 0 -11.4 0M1911.6 511.1a5.7 5.7 0 1 0 11.4 0a5.7 5.7 0 1 0 -11.4 0M1913.0 510.6a5.7 5.7 0 1 0 11.4 0a5.7 5.7 0 1 0 -11.4 0M1913.6 507.5a5.7 5.7 0 1 0 11.4 0a5.7 5.7 0 1 0 -11.4 0M1913.9 503.0a5.7 5.7 0 1 0 11.4 0a5.7 5.7 0 1 0 -11.4 0M1914.6 499.8a5.7 5.7 0 1 0 11.4 0a5.7 5.7 0 1 0 -11.4 0M1917.5 497.0a5.7 5.7 0 1 0 11.4 0a5.7 5.7 0 1 0 -11.4 0M1920.6 497.5a5.7 5.7 0 1 0 11.4 0a5.7 5.7 0 1 0 -11.4 0M1921.1 500.4a5.7 5.7 0 1 0 11.4 0a5.7 5.7 0 1 0 -11.4 0M1921.0 503.1a5.7 5.7 0 1 0 11.4 0a5.7 5.7 0 1 0 -11.4 0M1921.9 506.2a5.7 5.7 0 1 0 11.4 0a5.7 5.7 0 1 0 -11.4 0M1923.0 509.1a5.7 5.7 0 1 0 11.4 0a5.7 5.7 0 1 0 -11.4 0M1923.1 512.0a5.7 5.7 0 1 0 11.4 0a5.7 5.7 0 1 0 -11.4 0M1923.6 515.0a5.7 5.7 0 1 0 11.4 0a5.7 5.7 0 1 0 -11.4 0M1927.3 515.6a5.7 5.7 0 1 0 11.4 0a5.7 5.7 0 1 0 -11.4 0M1929.9 517.0a5.7 5.7 0 1 0 11.4 0a5.7 5.7 0 1 0 -11.4 0M1933.6 519.3a5.7 5.7 0 1 0 11.4 0a5.7 5.7 0 1 0 -11.4 0M1935.9 517.3a5.7 5.7 0 1 0 11.4 0a5.7 5.7 0 1 0 -11.4 0M1938.0 514.2a5.7 5.7 0 1 0 11.4 0a5.7 5.7 0 1 0 -11.4 0M1939.9 512.9a5.7 5.7 0 1 0 11.4 0a5.7 5.7 0 1 0 -11.4 0M1942.2 511.0a5.7 5.7 0 1 0 11.4 0a5.7 5.7 0 1 0 -11.4 0M1944.4 509.0a5.7 5.7 0 1 0 11.4 0a5.7 5.7 0 1 0 -11.4 0M1945.5 503.1a5.7 5.7 0 1 0 11.4 0a5.7 5.7 0 1 0 -11.4 0M1947.1 500.7a5.7 5.7 0 1 0 11.4 0a5.7 5.7 0 1 0 -11.4 0M1948.2 499.2a5.7 5.7 0 1 0 11.4 0a5.7 5.7 0 1 0 -11.4 0M1948.7 494.5a5.7 5.7 0 1 0 11.4 0a5.7 5.7 0 1 0 -11.4 0M1950.0 491.6a5.7 5.7 0 1 0 11.4 0a5.7 5.7 0 1 0 -11.4 0M1951.2 489.1a5.7 5.7 0 1 0 11.4 0a5.7 5.7 0 1 0 -11.4 0M1951.7 484.0a5.7 5.7 0 1 0 11.4 0a5.7 5.7 0 1 0 -11.4 0M1952.9 480.7a5.7 5.7 0 1 0 11.4 0a5.7 5.7 0 1 0 -11.4 0M1954.4 477.7a5.7 5.7 0 1 0 11.4 0a5.7 5.7 0 1 0 -11.4 0M1956.1 473.4a5.7 5.7 0 1 0 11.4 0a5.7 5.7 0 1 0 -11.4 0M1957.1 470.4a5.7 5.7 0 1 0 11.4 0a5.7 5.7 0 1 0 -11.4 0M1957.4 467.3a5.7 5.7 0 1 0 11.4 0a5.7 5.7 0 1 0 -11.4 0M1958.3 463.4a5.7 5.7 0 1 0 11.4 0a5.7 5.7 0 1 0 -11.4 0M1959.9 461.8a5.7 5.7 0 1 0 11.4 0a5.7 5.7 0 1 0 -11.4 0M1962.3 462.9a5.7 5.7 0 1 0 11.4 0a5.7 5.7 0 1 0 -11.4 0M1965.1 463.3a5.7 5.7 0 1 0 11.4 0a5.7 5.7 0 1 0 -11.4 0M1968.4 467.0a5.7 5.7 0 1 0 11.4 0a5.7 5.7 0 1 0 -11.4 0M1971.0 467.7a5.7 5.7 0 1 0 11.4 0a5.7 5.7 0 1 0 -11.4 0M1973.8 469.8a5.7 5.7 0 1 0 11.4 0a5.7 5.7 0 1 0 -11.4 0M1976.6 473.1a5.7 5.7 0 1 0 11.4 0a5.7 5.7 0 1 0 -11.4 0M1978.9 475.0a5.7 5.7 0 1 0 11.4 0a5.7 5.7 0 1 0 -11.4 0M1982.2 474.9a5.7 5.7 0 1 0 11.4 0a5.7 5.7 0 1 0 -11.4 0M1985.3 473.7a5.7 5.7 0 1 0 11.4 0a5.7 5.7 0 1 0 -11.4 0M1989.0 473.8a5.7 5.7 0 1 0 11.4 0a5.7 5.7 0 1 0 -11.4 0M1992.2 472.1a5.7 5.7 0 1 0 11.4 0a5.7 5.7 0 1 0 -11.4 0M1995.6 471.3a5.7 5.7 0 1 0 11.4 0a5.7 5.7 0 1 0 -11.4 0M1996.3 472.3a5.7 5.7 0 1 0 11.4 0a5.7 5.7 0 1 0 -11.4 0M1997.9 475.9a5.7 5.7 0 1 0 11.4 0a5.7 5.7 0 1 0 -11.4 0M1999.9 477.2a5.7 5.7 0 1 0 11.4 0a5.7 5.7 0 1 0 -11.4 0M2000.9 482.4a5.7 5.7 0 1 0 11.4 0a5.7 5.7 0 1 0 -11.4 0M2002.5 484.3a5.7 5.7 0 1 0 11.4 0a5.7 5.7 0 1 0 -11.4 0M2003.7 487.4a5.7 5.7 0 1 0 11.4 0a5.7 5.7 0 1 0 -11.4 0M2004.6 492.6a5.7 5.7 0 1 0 11.4 0a5.7 5.7 0 1 0 -11.4 0" fill="#ffa500"/>
<rect x="165.0" y="595.5" width="3100.0" height="20.299999999999955" fill="#a52a2a"/>
<rect x="165.0" y="625.9" width="3100.0" height="10.899999999999977" fill="#00ffff"/>
<rect x="165.0" y="655.5" width="3100.0" height="20.299999999999955" fill="#00ffff"/>
<path d="M825.0 603.8L840.0 608.5L870.0 609.5L900.0 609.0L940.0 609.5L980.0 609.0L1006.5 608.2" fill="none" stroke="#0000ff" stroke-width="4.29" stroke-linejoin="round"/>
<path d="M818.8 603.5a5.7 5.7 0 1 0 11.4 0a5.7 5.7 0 1 0 -11.4 0M822.6 606.1a5.7 5.7 0 1 0 11.4 0a5.7 5.7 0 1 0 -11.4 0M826.7 607.2a5.7 5.7 0 1 0 11.4 0a5.7 5.7 0 1 0 -11.4 0M830.8 608.2a5.7 5.7 0 1 0 11.4 0a5.7 5.7 0 1 0 -11.4 0M833.7 606.4a5.7 5.7 0 1 0 11.4 0a5.7 5.7 0 1 0 -11.4 0M838.7 606.4a5.7 5.7 0 1 0 11.4 0a5.7 5.7 0 1 0 -11.4 0M842.2 610.4a5.7 5.7 0 1 0 11.4 0a5.7 5.7 0 1 0 -11.4 0M845.3 608.1a5.7 5.7 0 1 0 11.4 0a5.7 5.7 0 1 0 -11.4 0M849.8 610.2a5.7 5.7 0 1 0 11.4 0a5.7 5.7 0 1 0 -11.4 0M853.2 611.1a5.7 5.7 0 1 0 11.4 0a5.7 5.7 0 1 0 -11.4 0M857.5 607.6a5.7 5.7 0 1 0 11.4 0a5.7 5.7 0 1 0 -11.4 0M860.0 607.3a5.7 5.7 0 1 0 11.4 0a5.7 5.7 0 1 0 -11.4 0M864.9 611.9a5.7 5.7 0 1 0 11.4 0a5.7 5.7 0 1 0 -11.4 0M867.9 608.4a5.7 5.7 0 1 0 11.4 0a5.7 5.7 0 1 0 -11.4 0M871.5 611.5a5.7 5.7 0 1 0 11.4 0a5.7 5.7 0 1 0 -11.4 0M875.8 608.8a5.7 5.7 0 1 0 11.4 0a5.7 5.7 0 1 0 -11.4 0M878.8 609.8a5.7 5.7 0 1 0 11.4 0a5.7 5.7 0 1 0 -11.4 0M882.3 609.0a5.7 5.7 0 1 0 11.4 0a5.7 5.7 0 1 0 -11.4 0M887.5 611.2a5.7 5.7 0 1 0 11.4 0a5.7 5.7 0 1 0 -11.4 0M890.5 611.3a5.7 5.7 0 1 0 11.4 0a5.7 5.7 0 1 0 -11.4 0M894.7 608.3a5.7 5.7 0 1 0 11.4 0a5.7 5.7 0 1 0 -11.4 0M898.1 609.2a5.7 5.7 0 1 0 11.4 0a5.7 5.7 0 1 0 -11.4 0M902.3 609.6a5.7 5.7 0 1 0 11.4 0a5.7 5.7 0 1 0 -11.4 0M904.9 607.4a5.7 5.7 0 1 0 11.4 0a5.7 5.7 0 1 0 -11.4 0M908.2 607.7a5.7 5.7 0 1 0 11.4 0a5.7 5.7 0 1 0 -11.4 0M913.0 609.1a5.7 5.7 0 1 0 11.4 0a5.7 5.7 0 1 0 -11.4 0M916.2 607.6a5.7 5.7 0 1 0 11.4 0a5.7 5.7 0 1 0 -11.4 0M919.3 609.7a5.7 5.7 0 1 0 11.4 0a5.7 5.7 0 1 0 -11.4 0M924.1 610.5a5.7 5.7 0 1 0 11.4 0a5.7 5.7 0 1 0 -11.4 0M926.7 610.5a5.7 5.7 0 1 0 11.4 0a5.7 5.7 0 1 0 -11.4 0M930.5 610.5a5.7 5.7 0 1 0 11.4 0a5.7 5.7 0 1 0 -11.4 0M934.9 610.7a5.7 5.7 0 1 0 11.4 0a5.7 5.7 0 1 0 -11.4 0M938.0 608.6a5.7 5.7 0 1 0 11.4 0a5.7 5.7 0 1 0 -11.4 0M942.1 607.7a5.7 5.7 0 1 0 11.4 0a5.7 5.7 0 1 0 -11.4 0M945.0 611.2a5.7 5.7 0 1 0 11.4 0a5.7 5.7 0 1 0 -11.4 0M949.1 611.4a5.7 5.7 0 1 0 11.4 0a5.7 5.7 0 1 0 -11.4 0M952.1 610.5a5.7 5.7 0 1 0 11.4 0a5.7 5.7 0 1 0 -11.4 0M956.2 608.6a5.7 5.7 0 1 0 11.4 0a5.7 5.7 0 1 0 -11.4 0M959.5 609.9a5.7 5.7 0 1 0 11.4 0a5.7 5.7 0 1 0 -11.4 0M963.5 610.7a5.7 5.7 0 1 0 11.4 0a5.7 5.7 0 1 0 -11.4 0M967.6 607.9a5.7 5.7 0 1 0 11.4 0a5.7 5.7 0 1 0 -11.4 0M970.2 608.6a5.7 5.7 0 1 0 11.4 0a5.7 5.7 0 1 0 -11.4 0M974.6 606.7a5.7 5.7 0 1 0 11.4 0a5.7 5.7 0 1 0 -11.4 0M978.2 607.6a5.7 5.7 0 1 0 11.4 0a5.7 5.7 0 1 0 -11.4 0M981.2 608.2a5.7 5.7 0 1 0 11.4 0a5.7 5.7 0 1 0 -11.4 0M985.2 610.8a5.7 5.7 0 1 0 11.4 0a5.7 5.7 0 1 0 -11.4 0M989.7 608.0a5.7 5.7 0 1 0 11.4 0a5.7 5.7 0 1 0 -11.4 0M992.7 607.3a5.7 5.7 0 1 0 11.4 0a5.7 5.7 0 1 0 -11.4 0M996.8 610.8a5.7 5.7 0 1 0 11.4 0a5.7 5.7 0 1 0 -11.4 0M1000.8 608.2a5.7 5.7 0 1 0 11.4 0a5.7 5.7 0 1 0 -11.4 0" fill="#0000ff"/>
<path d="M1006.5 608.5L1065.0 609.4" fill="none" stroke="#0000ff" stroke-width="4.29" stroke-linejoin="round"/>
<path d="M1065.0 609.4L1100.0 609.0L1150.0 610.0L1200.0 609.0L1250.0 609.5L1301.5 606.3" fill="none" stroke="#0000ff" stroke-width="4.29" stroke-linejoin="round"/>
<path d="M1059.3 607.2a5.7 5.7 0 1 0 11.4 0a5.7 5.7 0 1 0 -11.4 0M1062.8 607.1a5.7 5.7 0 1 0 11.4 0a5.7 5.7 0 1 0 -11.4 0M1066.9 607.7a5.7 5.7 0 1 0 11.4 0a5.7 5.7 0 1 0 -11.4 0M1069.6 610.0a5.7 5.7 0 1 0 11.4 0a5.7 5.7 0 1 0 -11.4 0M1072.9 608.2a5.7 5.7 0 1 0 11.4 0a5.7 5.7 0 1 0 -11.4 0M1076.8 610.3a5.7 5.7 0 1 0 11.4 0a5.7 5.7 0 1 0 -11.4 0M1079.6 609.8a5.7 5.7 0 1 0 11.4 0a5.7 5.7 0 1 0 -11.4 0M1084.5 608.5a5.7 5.7 0 1 0 11.4 0a5.7 5.7 0 1 0 -11.4 0M1087.1 611.6a5.7 5.7 0 1 0 11.4 0a5.7 5.7 0 1 0 -11.4 0M1091.2 607.4a5.7 5.7 0 1 0 11.4 0a5.7 5.7 0 1 0 -11.4 0M1094.7 610.4a5.7 5.7 0 1 0 11.4 0a5.7 5.7 0 1 0 -11.4 0M1098.1 606.7a5.7 5.7 0 1 0 11.4 0a5.7 5.7 0 1 0 -11.4 0M1101.7 610.9a5.7 5.7 0 1 0 11.4 0a5.7 5.7 0 1 0 -11.4 0M1105.0 609.8a5.7 5.7 0 1 0 11.4 0a5.7 5.7 0 1 0 -11.4 0M1108.4 606.8a5.7 5.7 0 1 0 11.4 0a5.7 5.7 0 1 0 -11.4 0M1112.3 610.1a5.7 5.7 0 1 0 11.4 0a5.7 5.7 0 1 0 -11.4 0M1115.7 611.4a5.7 5.7 0 1 0 11.4 0a5.7 5.7 0 1 0 -11.4 0M1118.9 608.5a5.7 5.7 0 1 0 11.4 0a5.7 5.7 0 1 0 -11.4 0M1122.9 610.2a5.7 5.7 0 1 0 11.4 0a5.7 5.7 0 1 0 -11.4 0M1126.3 610.8a5.7 5.7 0 1 0 11.4 0a5.7 5.7 0 1 0 -11.4 0M1129.6 608.7a5.7 5.7 0 1 0 11.4 0a5.7 5.7 0 1 0 -11.4 0M1133.0 611.9a5.7 5.7 0 1 0 11.4 0a5.7 5.7 0 1 0 -11.4 0M1137.5 610.7a5.7 5.7 0 1 0 11.4 0a5.7 5.7 0 1 0 -11.4 0M1140.8 610.4a5.7 5.7 0 1 0 11.4 0a5.7 5.7 0 1 0 -11.4 0M1144.3 610.3a5.7 5.7 0 1 0 11.4 0a5.7 5.7 0 1 0 -11.4 0M1147.3 611.6a5.7 5.7 0 1 0 11.4 0a5.7 5.7 0 1 0 -11.4 0M1151.4 608.0a5.7 5.7 0 1 0 11.4 0a5.7 5.7 0 1 0 -11.4 0M1154.5 612.3a5.7 5.7 0 1 0 11.4 0a5.7 5.7 0 1 0 -11.4 0M1159.2 610.9a5.7 5.7 0 1 0 11.4 0a5.7 5.7 0 1 0 -11.4 0M1162.7 609.7a5.7 5.7 0 1 0 11.4 0a5.7 5.7 0 1 0 -11.4 0M1165.6 608.3a5.7 5.7 0 1 0 11.4 0a5.7 5.7 0 1 0 -11.4 0M1169.4 607.9a5.7 5.7 0 1 0 11.4 0a5.7 5.7 0 1 0 -11.4 0M1172.6 607.5a5.7 5.7 0 1 0 11.4 0a5.7 5.7 0 1 0 -11.4 0M1176.1 610.7a5.7 5.7 0 1 0 11.4 0a5.7 5.7 0 1 0 -11.4 0M1180.1 610.3a5.7 5.7 0 1 0 11.4 0a5.7 5.7 0 1 0 -11.4 0M1184.2 610.7a5.7 5.7 0 1 0 11.4 0a5.7 5.7 0 1 0 -11.4 0M1187.5 609.4a5.7 5.7 0 1 0 11.4 0a5.7 5.7 0 1 0 -11.4 0M1190.9 610.1a5.7 5.7 0 1 0 11.4 0a5.7 5.7 0 1 0 -11.4 0M1194.4 607.3a5.7 5.7 0 1 0 11.4 0a5.7 5.7 0 1 0 -11.4 0M1198.4 610.2a5.7 5.7 0 1 0 11.4 0a5.7 5.7 0 1 0 -11.4 0M1201.2 608.5a5.7 5.7 0 1 0 11.4 0a5.7 5.7 0 1 0 -11.4 0M1205.3 608.0a5.7 5.7 0 1 0 11.4 0a5.7 5.7 0 1 0 -11.4 0M1207.9 609.3a5.7 5.7 0 1 0 11.4 0a5.7 5.7 0 1 0 -11.4 0M1211.5 610.5a5.7 5.7 0 1 0 11.4 0a5.7 5.7 0 1 0 -11.4 0M1215.8 610.1a5.7 5.7 0 1 0 11.4 0a5.7 5.7 0 1 0 -11.4 0M1219.1 611.1a5.7 5.7 0 1 0 11.4 0a5.7 5.7 0 1 0 -11.4 0M1222.5 610.8a5.7 5.7 0 1 0 11.4 0a5.7 5.7 0 1 0 -11.4 0M1227.1 610.5a5.7 5.7 0 1 0 11.4 0a5.7 5.7 0 1 0 -11.4 0M1230.1 610.4a5.7 5.7 0 1 0 11.4 0a5.7 5.7 0 1 0 -11.4 0M1233.2 610.0a5.7 5.7 0 1 0 11.4 0a5.7 5.7 0 1 0 -11.4 0M1236.5 609.7a5.7 5.7 0 1 0 11.4 0a5.7 5.7 0 1 0 -11.4 0M1240.5 607.1a5.7 5.7 0 1 0 11.4 0a5.7 5.7 0 1 0 -11.4 0M1244.4 610.5a5.7 5.7 0 1 0 11.4 0a5.7 5.7 0 1 0 -11.4 0M1247.7 608.9a5.7 5.7 0 1 0 11.4 0a5.7 5.7 0 1 0 -11.4 0M1251.5 607.1a5.7 5.7 0 1 0 11.4 0a5.7 5.7 0 1 0 -11.4 0M1255.2 609.6a5.7 5.7 0 1 0 11.4 0a5.7 5.7 0 1 0 -11.4 0M1259.6 608.6a5.7 5.7 0 1 0 11.4 0a5.7 5.7 0 1 0 -11.4 0M1262.3 608.5a5.7 5.7 0 1 0 11.4 0a5.7 5.7 0 1 0 -11.4 0M1266.2 608.2a5.7 5.7 0 1 0 11.4 0a5.7 5.7 0 1 0 -11.4 0M1270.4 608.6a5.7 5.7 0 1 0 11.4 0a5.7 5.7 0 1 0 -11.4 0M1274.1 609.5a5.7 5.7 0 1 0 11.4 0a5.7 5.7 0 1 0 -11.4 0M1276.7 608.9a5.7 5.7 0 1 0 11.4 0a5.7 5.7 0 1 0 -11.4 0M1280.9 606.2a5.7 5.7 0 1 0 11.4 0a5.7 5.7 0 1 0 -11.4 0M1284.7 605.6a5.7 5.7 0 1 0 11.4 0a5.7 5.7 0 1 0 -11.4 0M1287.9 606.2a5.7 5.7 0 1 0 11.4 0a5.7 5.7 0 1 0 -11.4 0M1291.6 607.3a5.7 5.7 0 1 0 11.4 0a5.7 5.7 0 1 0 -11.4 0M1295.8 606.3a5.7 5.7 0 1 0 11.4 0a5.7 5.7 0 1 0 -11.4 0" fill="#0000ff"/>
<path d="M1432.0 548.0L1452.0 546.0L1462.0 560.0L1464.0 572.0L1450.0 576.0L1436.0 572.0Z" fill="#0000ff" stroke="#0000ff" stroke-width="8" stroke-linejoin="round"/>
<path d="M1470.0 538.0L1482.0 533.0L1498.0 540.0L1500.0 552.0L1490.0 558.0L1474.0 556.0Z" fill="#0000ff" stroke="#0000ff" stroke-width="8" stroke-linejoin="round"/>
<path d="M1402.0 566.0L1416.0 562.0L1428.0 570.0L1428.0 582.0L1414.0 590.0L1402.0 584.0Z" fill="#0000ff" stroke="#0000ff" stroke-width="8" stroke-linejoin="round"/>
<path d="M1516.0 560.0L1530.0 568.0L1544.0 574.0L1540.0 584.0L1524.0 582.0L1514.0 572.0Z" fill="#0000ff" stroke="#0000ff" stroke-width="6" stroke-linejoin="round"/>
<path d="M1330.0 592.0L1345.0 590.0L1354.0 598.0L1354.0 610.0L1345.0 614.0L1334.0 612.0L1328.0 602.0Z" fill="#0000ff" stroke="#0000ff" stroke-width="6" stroke-linejoin="round"/>
<path d="M1301.7 606.7L1300.8 586.7L1305.0 580.0L1318.3 581.7L1330.0 586.7L1341.0 600.0L1333.3 616.0L1334.2 640.8" fill="none" stroke="#0000ff" stroke-width="4.29" stroke-linejoin="round"/>
<path d="M1345.0 600.0L1351.7 586.7L1356.4 576.4L1356.4 566.0L1358.6 553.4L1363.2 580.9L1370.1 590.1L1374.7 585.5L1397.6 583.2L1406.8 594.7L1416.0 590.1L1402.2 580.9L1406.8 567.2L1411.4 564.9L1418.3 543.1L1418.3 562.0L1420.6 576.4L1429.8 562.6L1434.4 548.8L1438.9 541.9L1443.5 546.5L1452.7 546.5L1459.6 562.6L1466.5 569.5L1461.9 583.2L1455.0 590.1L1448.1 576.4L1448.1 567.2L1477.9 530.5L1487.1 544.2L1498.6 539.6L1496.3 555.7L1489.4 560.3L1500.9 571.8L1500.9 599.3" fill="none" stroke="#0000ff" stroke-width="4.29" stroke-linejoin="round"/>
<path d="M1500.9 571.8L1512.4 551.1L1516.9 562.6L1530.7 571.8L1535.3 578.6L1544.5 576.4L1558.2 569.5L1553.6 585.5L1544.5 597.0L1553.6 603.9L1565.1 585.5L1567.4 606.2L1567.4 619.9" fill="none" stroke="#0000ff" stroke-width="4.29" stroke-linejoin="round"/>
<path d="M1352.9 553.4a5.7 5.7 0 1 0 11.4 0a5.7 5.7 0 1 0 -11.4 0M1350.7 566.0a5.7 5.7 0 1 0 11.4 0a5.7 5.7 0 1 0 -11.4 0M1350.7 576.4a5.7 5.7 0 1 0 11.4 0a5.7 5.7 0 1 0 -11.4 0M1357.5 580.9a5.7 5.7 0 1 0 11.4 0a5.7 5.7 0 1 0 -11.4 0M1364.4 590.1a5.7 5.7 0 1 0 11.4 0a5.7 5.7 0 1 0 -11.4 0M1369.0 585.5a5.7 5.7 0 1 0 11.4 0a5.7 5.7 0 1 0 -11.4 0M1391.9 583.2a5.7 5.7 0 1 0 11.4 0a5.7 5.7 0 1 0 -11.4 0M1401.1 594.7a5.7 5.7 0 1 0 11.4 0a5.7 5.7 0 1 0 -11.4 0M1410.3 590.1a5.7 5.7 0 1 0 11.4 0a5.7 5.7 0 1 0 -11.4 0M1396.5 580.9a5.7 5.7 0 1 0 11.4 0a5.7 5.7 0 1 0 -11.4 0M1401.1 567.2a5.7 5.7 0 1 0 11.4 0a5.7 5.7 0 1 0 -11.4 0M1405.7 564.9a5.7 5.7 0 1 0 11.4 0a5.7 5.7 0 1 0 -11.4 0M1412.6 543.1a5.7 5.7 0 1 0 11.4 0a5.7 5.7 0 1 0 -11.4 0M1414.9 558.0a5.7 5.7 0 1 0 11.4 0a5.7 5.7 0 1 0 -11.4 0M1414.9 576.4a5.7 5.7 0 1 0 11.4 0a5.7 5.7 0 1 0 -11.4 0M1424.1 562.6a5.7 5.7 0 1 0 11.4 0a5.7 5.7 0 1 0 -11.4 0M1428.7 548.8a5.7 5.7 0 1 0 11.4 0a5.7 5.7 0 1 0 -11.4 0M1433.2 541.9a5.7 5.7 0 1 0 11.4 0a5.7 5.7 0 1 0 -11.4 0M1437.8 546.5a5.7 5.7 0 1 0 11.4 0a5.7 5.7 0 1 0 -11.4 0M1447.0 546.5a5.7 5.7 0 1 0 11.4 0a5.7 5.7 0 1 0 -11.4 0M1428.7 555.7a5.7 5.7 0 1 0 11.4 0a5.7 5.7 0 1 0 -11.4 0M1424.1 574.1a5.7 5.7 0 1 0 11.4 0a5.7 5.7 0 1 0 -11.4 0M1442.4 567.2a5.7 5.7 0 1 0 11.4 0a5.7 5.7 0 1 0 -11.4 0M1442.4 576.4a5.7 5.7 0 1 0 11.4 0a5.7 5.7 0 1 0 -11.4 0M1453.9 562.6a5.7 5.7 0 1 0 11.4 0a5.7 5.7 0 1 0 -11.4 0M1460.8 569.5a5.7 5.7 0 1 0 11.4 0a5.7 5.7 0 1 0 -11.4 0M1460.8 578.6a5.7 5.7 0 1 0 11.4 0a5.7 5.7 0 1 0 -11.4 0M1456.2 583.2a5.7 5.7 0 1 0 11.4 0a5.7 5.7 0 1 0 -11.4 0M1449.3 590.1a5.7 5.7 0 1 0 11.4 0a5.7 5.7 0 1 0 -11.4 0M1472.2 530.5a5.7 5.7 0 1 0 11.4 0a5.7 5.7 0 1 0 -11.4 0M1469.9 544.2a5.7 5.7 0 1 0 11.4 0a5.7 5.7 0 1 0 -11.4 0M1481.4 544.2a5.7 5.7 0 1 0 11.4 0a5.7 5.7 0 1 0 -11.4 0M1492.9 539.6a5.7 5.7 0 1 0 11.4 0a5.7 5.7 0 1 0 -11.4 0M1490.6 555.7a5.7 5.7 0 1 0 11.4 0a5.7 5.7 0 1 0 -11.4 0M1474.5 555.7a5.7 5.7 0 1 0 11.4 0a5.7 5.7 0 1 0 -11.4 0M1483.7 560.3a5.7 5.7 0 1 0 11.4 0a5.7 5.7 0 1 0 -11.4 0M1495.2 571.8a5.7 5.7 0 1 0 11.4 0a5.7 5.7 0 1 0 -11.4 0M1495.2 599.3a5.7 5.7 0 1 0 11.4 0a5.7 5.7 0 1 0 -11.4 0M1506.7 551.1a5.7 5.7 0 1 0 11.4 0a5.7 5.7 0 1 0 -11.4 0M1511.2 562.6a5.7 5.7 0 1 0 11.4 0a5.7 5.7 0 1 0 -11.4 0M1525.0 571.8a5.7 5.7 0 1 0 11.4 0a5.7 5.7 0 1 0 -11.4 0M1529.6 578.6a5.7 5.7 0 1 0 11.4 0a5.7 5.7 0 1 0 -11.4 0M1525.0 585.5a5.7 5.7 0 1 0 11.4 0a5.7 5.7 0 1 0 -11.4 0M1538.8 576.4a5.7 5.7 0 1 0 11.4 0a5.7 5.7 0 1 0 -11.4 0M1552.5 569.5a5.7 5.7 0 1 0 11.4 0a5.7 5.7 0 1 0 -11.4 0M1547.9 585.5a5.7 5.7 0 1 0 11.4 0a5.7 5.7 0 1 0 -11.4 0M1538.8 597.0a5.7 5.7 0 1 0 11.4 0a5.7 5.7 0 1 0 -11.4 0M1547.9 603.9a5.7 5.7 0 1 0 11.4 0a5.7 5.7 0 1 0 -11.4 0M1559.4 585.5a5.7 5.7 0 1 0 11.4 0a5.7 5.7 0 1 0 -11.4 0M1561.7 606.2a5.7 5.7 0 1 0 11.4 0a5.7 5.7 0 1 0 -11.4 0M1561.7 619.9a5.7 5.7 0 1 0 11.4 0a5.7 5.7 0 1 0 -11.4 0" fill="#0000ff"/>
<path d="M1420.3 580.0a5.7 5.7 0 1 0 11.4 0a5.7 5.7 0 1 0 -11.4 0M1406.3 575.0a5.7 5.7 0 1 0 11.4 0a5.7 5.7 0 1 0 -11.4 0M1430.3 568.0a5.7 5.7 0 1 0 11.4 0a5.7 5.7 0 1 0 -11.4 0M1419.3 552.0a5.7 5.7 0 1 0 11.4 0a5.7 5.7 0 1 0 -11.4 0M1434.3 556.0a5.7 5.7 0 1 0 11.4 0a5.7 5.7 0 1 0 -11.4 0M1446.3 556.0a5.7 5.7 0 1 0 11.4 0a5.7 5.7 0 1 0 -11.4 0M1464.3 536.0a5.7 5.7 0 1 0 11.4 0a5.7 5.7 0 1 0 -11.4 0M1478.3 552.0a5.7 5.7 0 1 0 11.4 0a5.7 5.7 0 1 0 -11.4 0M1486.3 550.0a5.7 5.7 0 1 0 11.4 0a5.7 5.7 0 1 0 -11.4 0M1500.3 560.0a5.7 5.7 0 1 0 11.4 0a5.7 5.7 0 1 0 -11.4 0M1516.3 566.0a5.7 5.7 0 1 0 11.4 0a5.7 5.7 0 1 0 -11.4 0M1534.3 584.0a5.7 5.7 0 1 0 11.4 0a5.7 5.7 0 1 0 -11.4 0M1554.3 577.0a5.7 5.7 0 1 0 11.4 0a5.7 5.7 0 1 0 -11.4 0M1543.3 592.0a5.7 5.7 0 1 0 11.4 0a5.7 5.7 0 1 0 -11.4 0M1554.3 598.0a5.7 5.7 0 1 0 11.4 0a5.7 5.7 0 1 0 -11.4 0M1404.3 585.0a5.7 5.7 0 1 0 11.4 0a5.7 5.7 0 1 0 -11.4 0M1386.3 585.0a5.7 5.7 0 1 0 11.4 0a5.7 5.7 0 1 0 -11.4 0M1360.3 586.0a5.7 5.7 0 1 0 11.4 0a5.7 5.7 0 1 0 -11.4 0M1377.3 584.0a5.7 5.7 0 1 0 11.4 0a5.7 5.7 0 1 0 -11.4 0" fill="#0000ff"/>
<path d="M1294.3 606.7a5.7 5.7 0 1 0 11.4 0a5.7 5.7 0 1 0 -11.4 0M1284.3 606.7a5.7 5.7 0 1 0 11.4 0a5.7 5.7 0 1 0 -11.4 0M1299.3 580.0a5.7 5.7 0 1 0 11.4 0a5.7 5.7 0 1 0 -11.4 0M1307.6 580.0a5.7 5.7 0 1 0 11.4 0a5.7 5.7 0 1 0 -11.4 0M1314.3 581.7a5.7 5.7 0 1 0 11.4 0a5.7 5.7 0 1 0 -11.4 0M1322.6 585.0a5.7 5.7 0 1 0 11.4 0a5.7 5.7 0 1 0 -11.4 0M1326.0 600.0a5.7 5.7 0 1 0 11.4 0a5.7 5.7 0 1 0 -11.4 0M1336.0 595.0a5.7 5.7 0 1 0 11.4 0a5.7 5.7 0 1 0 -11.4 0M1344.3 600.0a5.7 5.7 0 1 0 11.4 0a5.7 5.7 0 1 0 -11.4 0M1347.6 606.7a5.7 5.7 0 1 0 11.4 0a5.7 5.7 0 1 0 -11.4 0M1341.0 613.3a5.7 5.7 0 1 0 11.4 0a5.7 5.7 0 1 0 -11.4 0M1331.0 613.3a5.7 5.7 0 1 0 11.4 0a5.7 5.7 0 1 0 -11.4 0M1324.3 606.7a5.7 5.7 0 1 0 11.4 0a5.7 5.7 0 1 0 -11.4 0M1334.3 605.0a5.7 5.7 0 1 0 11.4 0a5.7 5.7 0 1 0 -11.4 0M1327.6 630.0a5.7 5.7 0 1 0 11.4 0a5.7 5.7 0 1 0 -11.4 0M1328.5 640.8a5.7 5.7 0 1 0 11.4 0a5.7 5.7 0 1 0 -11.4 0M1346.0 586.7a5.7 5.7 0 1 0 11.4 0a5.7 5.7 0 1 0 -11.4 0M1339.3 592.0a5.7 5.7 0 1 0 11.4 0a5.7 5.7 0 1 0 -11.4 0M1327.3 592.0a5.7 5.7 0 1 0 11.4 0a5.7 5.7 0 1 0 -11.4 0M1346.3 612.0a5.7 5.7 0 1 0 11.4 0a5.7 5.7 0 1 0 -11.4 0" fill="#0000ff"/>
<path d="M1566.7 620.8L1713.8 624.0" fill="none" stroke="#0000ff" stroke-width="4.29" stroke-linejoin="round"/>
<path d="M1713.8 624.0L1721.3 635.2L1730.7 595.8L1732.6 605.2L1732.6 639.0L1736.3 648.3L1740.0 661.5L1745.7 672.7L1745.7 687.8L1753.2 665.2L1757.0 646.5L1762.6 627.7L1770.0 635.2L1773.8 657.7L1777.6 624.0L1788.9 631.4L1790.7 639.0L1790.7 684.0L1792.6 702.8L1796.4 729.0L1798.2 759.0L1800.0 762.8L1807.6 699.0L1809.5 725.3L1811.4 740.3L1815.1 717.8L1815.1 665.2L1817.0 642.7L1818.9 620.2L1820.8 593.9L1826.4 595.8" fill="none" stroke="#0000ff" stroke-width="4.29" stroke-linejoin="round"/>
<path d="M1708.2 624.9a5.7 5.7 0 1 0 11.4 0a5.7 5.7 0 1 0 -11.4 0M1715.4 635.0a5.7 5.7 0 1 0 11.4 0a5.7 5.7 0 1 0 -11.4 0M1717.3 627.8a5.7 5.7 0 1 0 11.4 0a5.7 5.7 0 1 0 -11.4 0M1719.4 619.7a5.7 5.7 0 1 0 11.4 0a5.7 5.7 0 1 0 -11.4 0M1721.4 611.0a5.7 5.7 0 1 0 11.4 0a5.7 5.7 0 1 0 -11.4 0M1723.0 604.4a5.7 5.7 0 1 0 11.4 0a5.7 5.7 0 1 0 -11.4 0M1724.8 596.3a5.7 5.7 0 1 0 11.4 0a5.7 5.7 0 1 0 -11.4 0M1726.8 605.1a5.7 5.7 0 1 0 11.4 0a5.7 5.7 0 1 0 -11.4 0M1727.2 613.4a5.7 5.7 0 1 0 11.4 0a5.7 5.7 0 1 0 -11.4 0M1727.2 622.8a5.7 5.7 0 1 0 11.4 0a5.7 5.7 0 1 0 -11.4 0M1726.9 631.5a5.7 5.7 0 1 0 11.4 0a5.7 5.7 0 1 0 -11.4 0M1726.9 640.0a5.7 5.7 0 1 0 11.4 0a5.7 5.7 0 1 0 -11.4 0M1730.7 649.3a5.7 5.7 0 1 0 11.4 0a5.7 5.7 0 1 0 -11.4 0M1734.0 661.3a5.7 5.7 0 1 0 11.4 0a5.7 5.7 0 1 0 -11.4 0M1739.8 672.1a5.7 5.7 0 1 0 11.4 0a5.7 5.7 0 1 0 -11.4 0M1740.2 680.2a5.7 5.7 0 1 0 11.4 0a5.7 5.7 0 1 0 -11.4 0M1739.9 687.0a5.7 5.7 0 1 0 11.4 0a5.7 5.7 0 1 0 -11.4 0M1742.4 681.0a5.7 5.7 0 1 0 11.4 0a5.7 5.7 0 1 0 -11.4 0M1745.3 671.9a5.7 5.7 0 1 0 11.4 0a5.7 5.7 0 1 0 -11.4 0M1747.5 665.3a5.7 5.7 0 1 0 11.4 0a5.7 5.7 0 1 0 -11.4 0M1749.2 655.5a5.7 5.7 0 1 0 11.4 0a5.7 5.7 0 1 0 -11.4 0M1751.0 647.4a5.7 5.7 0 1 0 11.4 0a5.7 5.7 0 1 0 -11.4 0M1753.8 637.7a5.7 5.7 0 1 0 11.4 0a5.7 5.7 0 1 0 -11.4 0M1756.8 628.2a5.7 5.7 0 1 0 11.4 0a5.7 5.7 0 1 0 -11.4 0M1764.2 635.7a5.7 5.7 0 1 0 11.4 0a5.7 5.7 0 1 0 -11.4 0M1765.7 643.6a5.7 5.7 0 1 0 11.4 0a5.7 5.7 0 1 0 -11.4 0M1766.6 650.5a5.7 5.7 0 1 0 11.4 0a5.7 5.7 0 1 0 -11.4 0M1768.3 657.7a5.7 5.7 0 1 0 11.4 0a5.7 5.7 0 1 0 -11.4 0M1769.3 649.3a5.7 5.7 0 1 0 11.4 0a5.7 5.7 0 1 0 -11.4 0M1769.8 639.9a5.7 5.7 0 1 0 11.4 0a5.7 5.7 0 1 0 -11.4 0M1771.1 632.6a5.7 5.7 0 1 0 11.4 0a5.7 5.7 0 1 0 -11.4 0M1772.0 624.1a5.7 5.7 0 1 0 11.4 0a5.7 5.7 0 1 0 -11.4 0M1783.4 631.6a5.7 5.7 0 1 0 11.4 0a5.7 5.7 0 1 0 -11.4 0M1784.9 638.6a5.7 5.7 0 1 0 11.4 0a5.7 5.7 0 1 0 -11.4 0M1785.2 646.4a5.7 5.7 0 1 0 11.4 0a5.7 5.7 0 1 0 -11.4 0M1784.9 654.3a5.7 5.7 0 1 0 11.4 0a5.7 5.7 0 1 0 -11.4 0M1785.0 661.4a5.7 5.7 0 1 0 11.4 0a5.7 5.7 0 1 0 -11.4 0M1785.2 668.8a5.7 5.7 0 1 0 11.4 0a5.7 5.7 0 1 0 -11.4 0M1785.0 676.1a5.7 5.7 0 1 0 11.4 0a5.7 5.7 0 1 0 -11.4 0M1785.0 683.7a5.7 5.7 0 1 0 11.4 0a5.7 5.7 0 1 0 -11.4 0M1785.8 694.0a5.7 5.7 0 1 0 11.4 0a5.7 5.7 0 1 0 -11.4 0M1786.9 703.7a5.7 5.7 0 1 0 11.4 0a5.7 5.7 0 1 0 -11.4 0M1788.2 711.3a5.7 5.7 0 1 0 11.4 0a5.7 5.7 0 1 0 -11.4 0M1789.3 721.0a5.7 5.7 0 1 0 11.4 0a5.7 5.7 0 1 0 -11.4 0M1790.7 728.2a5.7 5.7 0 1 0 11.4 0a5.7 5.7 0 1 0 -11.4 0M1790.9 737.2a5.7 5.7 0 1 0 11.4 0a5.7 5.7 0 1 0 -11.4 0M1791.9 743.5a5.7 5.7 0 1 0 11.4 0a5.7 5.7 0 1 0 -11.4 0M1791.8 750.8a5.7 5.7 0 1 0 11.4 0a5.7 5.7 0 1 0 -11.4 0M1792.3 759.0a5.7 5.7 0 1 0 11.4 0a5.7 5.7 0 1 0 -11.4 0M1794.3 763.1a5.7 5.7 0 1 0 11.4 0a5.7 5.7 0 1 0 -11.4 0M1795.3 756.5a5.7 5.7 0 1 0 11.4 0a5.7 5.7 0 1 0 -11.4 0M1796.1 748.3a5.7 5.7 0 1 0 11.4 0a5.7 5.7 0 1 0 -11.4 0M1796.8 742.5a5.7 5.7 0 1 0 11.4 0a5.7 5.7 0 1 0 -11.4 0M1797.8 735.2a5.7 5.7 0 1 0 11.4 0a5.7 5.7 0 1 0 -11.4 0M1798.8 726.9a5.7 5.7 0 1 0 11.4 0a5.7 5.7 0 1 0 -11.4 0M1799.1 719.7a5.7 5.7 0 1 0 11.4 0a5.7 5.7 0 1 0 -11.4 0M1800.0 712.2a5.7 5.7 0 1 0 11.4 0a5.7 5.7 0 1 0 -11.4 0M1801.0 706.3a5.7 5.7 0 1 0 11.4 0a5.7 5.7 0 1 0 -11.4 0M1801.7 699.0a5.7 5.7 0 1 0 11.4 0a5.7 5.7 0 1 0 -11.4 0M1802.8 707.4a5.7 5.7 0 1 0 11.4 0a5.7 5.7 0 1 0 -11.4 0M1803.3 715.6a5.7 5.7 0 1 0 11.4 0a5.7 5.7 0 1 0 -11.4 0M1803.7 725.1a5.7 5.7 0 1 0 11.4 0a5.7 5.7 0 1 0 -11.4 0M1805.0 732.5a5.7 5.7 0 1 0 11.4 0a5.7 5.7 0 1 0 -11.4 0M1805.7 739.4a5.7 5.7 0 1 0 11.4 0a5.7 5.7 0 1 0 -11.4 0M1806.9 733.7a5.7 5.7 0 1 0 11.4 0a5.7 5.7 0 1 0 -11.4 0M1808.1 725.4a5.7 5.7 0 1 0 11.4 0a5.7 5.7 0 1 0 -11.4 0M1809.6 718.7a5.7 5.7 0 1 0 11.4 0a5.7 5.7 0 1 0 -11.4 0M1809.5 710.0a5.7 5.7 0 1 0 11.4 0a5.7 5.7 0 1 0 -11.4 0M1809.3 702.8a5.7 5.7 0 1 0 11.4 0a5.7 5.7 0 1 0 -11.4 0M1809.4 695.2a5.7 5.7 0 1 0 11.4 0a5.7 5.7 0 1 0 -11.4 0M1809.2 688.2a5.7 5.7 0 1 0 11.4 0a5.7 5.7 0 1 0 -11.4 0M1809.6 681.1a5.7 5.7 0 1 0 11.4 0a5.7 5.7 0 1 0 -11.4 0M1809.1 672.6a5.7 5.7 0 1 0 11.4 0a5.7 5.7 0 1 0 -11.4 0M1809.3 664.4a5.7 5.7 0 1 0 11.4 0a5.7 5.7 0 1 0 -11.4 0M1809.9 657.5a5.7 5.7 0 1 0 11.4 0a5.7 5.7 0 1 0 -11.4 0M1810.4 650.5a5.7 5.7 0 1 0 11.4 0a5.7 5.7 0 1 0 -11.4 0M1811.4 642.0a5.7 5.7 0 1 0 11.4 0a5.7 5.7 0 1 0 -11.4 0M1812.1 635.4a5.7 5.7 0 1 0 11.4 0a5.7 5.7 0 1 0 -11.4 0M1812.8 628.1a5.7 5.7 0 1 0 11.4 0a5.7 5.7 0 1 0 -11.4 0M1813.4 620.7a5.7 5.7 0 1 0 11.4 0a5.7 5.7 0 1 0 -11.4 0M1813.8 611.7a5.7 5.7 0 1 0 11.4 0a5.7 5.7 0 1 0 -11.4 0M1814.7 603.3a5.7 5.7 0 1 0 11.4 0a5.7 5.7 0 1 0 -11.4 0M1815.4 593.8a5.7 5.7 0 1 0 11.4 0a5.7 5.7 0 1 0 -11.4 0M1820.7 595.8a5.7 5.7 0 1 0 11.4 0a5.7 5.7 0 1 0 -11.4 0" fill="#0000ff"/>
<path d="M1734.3 650.0a5.7 5.7 0 1 0 11.4 0a5.7 5.7 0 1 0 -11.4 0M1744.3 660.0a5.7 5.7 0 1 0 11.4 0a5.7 5.7 0 1 0 -11.4 0M1737.3 640.0a5.7 5.7 0 1 0 11.4 0a5.7 5.7 0 1 0 -11.4 0M1760.3 650.0a5.7 5.7 0 1 0 11.4 0a5.7 5.7 0 1 0 -11.4 0M1766.3 645.0a5.7 5.7 0 1 0 11.4 0a5.7 5.7 0 1 0 -11.4 0M1794.3 745.0a5.7 5.7 0 1 0 11.4 0a5.7 5.7 0 1 0 -11.4 0M1799.3 735.0a5.7 5.7 0 1 0 11.4 0a5.7 5.7 0 1 0 -11.4 0M1797.3 715.0a5.7 5.7 0 1 0 11.4 0a5.7 5.7 0 1 0 -11.4 0M1806.3 755.0a5.7 5.7 0 1 0 11.4 0a5.7 5.7 0 1 0 -11.4 0M1790.3 705.0a5.7 5.7 0 1 0 11.4 0a5.7 5.7 0 1 0 -11.4 0" fill="#0000ff"/>
<path d="M1826.4 596.0L1920.2 599.5" fill="none" stroke="#0000ff" stroke-width="4.29" stroke-linejoin="round"/>
<path d="M1920.2 599.5L1918.4 672.7L1920.2 687.8L1920.2 695.3L1922.1 710.3L1924.0 717.8L1925.9 729.0L1937.1 736.6L1942.8 721.5L1946.5 702.8L1957.8 699.0L1954.0 725.3L1969.0 706.5L1980.3 717.8L1984.0 732.8L1991.6 699.0L1995.3 717.8L1991.6 729.0L2002.8 740.3L2002.8 751.6L2008.5 761.0" fill="none" stroke="#0000ff" stroke-width="4.29" stroke-linejoin="round"/>
<path d="M1914.4 599.2a5.7 5.7 0 1 0 11.4 0a5.7 5.7 0 1 0 -11.4 0M1914.4 606.5a5.7 5.7 0 1 0 11.4 0a5.7 5.7 0 1 0 -11.4 0M1914.4 611.3a5.7 5.7 0 1 0 11.4 0a5.7 5.7 0 1 0 -11.4 0M1914.0 616.9a5.7 5.7 0 1 0 11.4 0a5.7 5.7 0 1 0 -11.4 0M1914.1 624.1a5.7 5.7 0 1 0 11.4 0a5.7 5.7 0 1 0 -11.4 0M1913.8 630.2a5.7 5.7 0 1 0 11.4 0a5.7 5.7 0 1 0 -11.4 0M1913.7 635.5a5.7 5.7 0 1 0 11.4 0a5.7 5.7 0 1 0 -11.4 0M1913.3 642.1a5.7 5.7 0 1 0 11.4 0a5.7 5.7 0 1 0 -11.4 0M1913.4 647.8a5.7 5.7 0 1 0 11.4 0a5.7 5.7 0 1 0 -11.4 0M1913.3 653.5a5.7 5.7 0 1 0 11.4 0a5.7 5.7 0 1 0 -11.4 0M1913.2 659.5a5.7 5.7 0 1 0 11.4 0a5.7 5.7 0 1 0 -11.4 0M1912.6 667.5a5.7 5.7 0 1 0 11.4 0a5.7 5.7 0 1 0 -11.4 0M1912.7 672.7a5.7 5.7 0 1 0 11.4 0a5.7 5.7 0 1 0 -11.4 0M1913.4 679.7a5.7 5.7 0 1 0 11.4 0a5.7 5.7 0 1 0 -11.4 0M1914.3 687.9a5.7 5.7 0 1 0 11.4 0a5.7 5.7 0 1 0 -11.4 0M1914.3 694.8a5.7 5.7 0 1 0 11.4 0a5.7 5.7 0 1 0 -11.4 0M1915.2 702.3a5.7 5.7 0 1 0 11.4 0a5.7 5.7 0 1 0 -11.4 0M1916.7 710.1a5.7 5.7 0 1 0 11.4 0a5.7 5.7 0 1 0 -11.4 0M1918.3 718.4a5.7 5.7 0 1 0 11.4 0a5.7 5.7 0 1 0 -11.4 0M1920.4 729.7a5.7 5.7 0 1 0 11.4 0a5.7 5.7 0 1 0 -11.4 0M1925.7 733.4a5.7 5.7 0 1 0 11.4 0a5.7 5.7 0 1 0 -11.4 0M1931.4 736.8a5.7 5.7 0 1 0 11.4 0a5.7 5.7 0 1 0 -11.4 0M1934.2 729.5a5.7 5.7 0 1 0 11.4 0a5.7 5.7 0 1 0 -11.4 0M1937.2 721.5a5.7 5.7 0 1 0 11.4 0a5.7 5.7 0 1 0 -11.4 0M1938.6 715.4a5.7 5.7 0 1 0 11.4 0a5.7 5.7 0 1 0 -11.4 0M1939.3 708.7a5.7 5.7 0 1 0 11.4 0a5.7 5.7 0 1 0 -11.4 0M1941.1 703.7a5.7 5.7 0 1 0 11.4 0a5.7 5.7 0 1 0 -11.4 0M1952.3 699.1a5.7 5.7 0 1 0 11.4 0a5.7 5.7 0 1 0 -11.4 0M1951.0 705.8a5.7 5.7 0 1 0 11.4 0a5.7 5.7 0 1 0 -11.4 0M1950.2 711.4a5.7 5.7 0 1 0 11.4 0a5.7 5.7 0 1 0 -11.4 0M1949.5 719.0a5.7 5.7 0 1 0 11.4 0a5.7 5.7 0 1 0 -11.4 0M1948.5 726.3a5.7 5.7 0 1 0 11.4 0a5.7 5.7 0 1 0 -11.4 0M1951.9 721.4a5.7 5.7 0 1 0 11.4 0a5.7 5.7 0 1 0 -11.4 0M1955.9 715.1a5.7 5.7 0 1 0 11.4 0a5.7 5.7 0 1 0 -11.4 0M1959.5 711.6a5.7 5.7 0 1 0 11.4 0a5.7 5.7 0 1 0 -11.4 0M1963.6 707.3a5.7 5.7 0 1 0 11.4 0a5.7 5.7 0 1 0 -11.4 0M1969.0 713.0a5.7 5.7 0 1 0 11.4 0a5.7 5.7 0 1 0 -11.4 0M1974.6 717.5a5.7 5.7 0 1 0 11.4 0a5.7 5.7 0 1 0 -11.4 0M1976.4 725.0a5.7 5.7 0 1 0 11.4 0a5.7 5.7 0 1 0 -11.4 0M1978.0 733.3a5.7 5.7 0 1 0 11.4 0a5.7 5.7 0 1 0 -11.4 0M1980.0 726.4a5.7 5.7 0 1 0 11.4 0a5.7 5.7 0 1 0 -11.4 0M1981.6 718.6a5.7 5.7 0 1 0 11.4 0a5.7 5.7 0 1 0 -11.4 0M1982.7 713.0a5.7 5.7 0 1 0 11.4 0a5.7 5.7 0 1 0 -11.4 0M1984.6 706.2a5.7 5.7 0 1 0 11.4 0a5.7 5.7 0 1 0 -11.4 0M1985.9 698.3a5.7 5.7 0 1 0 11.4 0a5.7 5.7 0 1 0 -11.4 0M1987.3 704.3a5.7 5.7 0 1 0 11.4 0a5.7 5.7 0 1 0 -11.4 0M1988.2 712.2a5.7 5.7 0 1 0 11.4 0a5.7 5.7 0 1 0 -11.4 0M1989.6 718.7a5.7 5.7 0 1 0 11.4 0a5.7 5.7 0 1 0 -11.4 0M1985.7 729.4a5.7 5.7 0 1 0 11.4 0a5.7 5.7 0 1 0 -11.4 0M1991.5 734.5a5.7 5.7 0 1 0 11.4 0a5.7 5.7 0 1 0 -11.4 0M1997.1 740.0a5.7 5.7 0 1 0 11.4 0a5.7 5.7 0 1 0 -11.4 0M1997.1 752.5a5.7 5.7 0 1 0 11.4 0a5.7 5.7 0 1 0 -11.4 0M2002.8 761.0a5.7 5.7 0 1 0 11.4 0a5.7 5.7 0 1 0 -11.4 0" fill="#0000ff"/>
<path d="M1924.3 730.0a5.7 5.7 0 1 0 11.4 0a5.7 5.7 0 1 0 -11.4 0M1956.3 705.0a5.7 5.7 0 1 0 11.4 0a5.7 5.7 0 1 0 -11.4 0M1969.3 712.0a5.7 5.7 0 1 0 11.4 0a5.7 5.7 0 1 0 -11.4 0M1979.3 720.0a5.7 5.7 0 1 0 11.4 0a5.7 5.7 0 1 0 -11.4 0M1992.3 722.0a5.7 5.7 0 1 0 11.4 0a5.7 5.7 0 1 0 -11.4 0M1957.3 715.0a5.7 5.7 0 1 0 11.4 0a5.7 5.7 0 1 0 -11.4 0M1944.3 710.0a5.7 5.7 0 1 0 11.4 0a5.7 5.7 0 1 0 -11.4 0" fill="#0000ff"/>
<rect x="3015.5" y="85" width="232.0" height="506.5" rx="6" ry="6" fill="#ffffff" fill-opacity="0.8" stroke="#cccccc" stroke-opacity="0.8" stroke-width="2.86"/>
<g fill="#000000" stroke="#000000" stroke-width="2.86" stroke-linejoin="miter"><path d="M3060.0 102.5L3051.4 119.5L3068.6 119.5Z"/></g>
<text x="3120.49" y="123.40" font-size="35.32" textLength="103.41" lengthAdjust="spacingAndGlyphs" fill="#000" >Astig1</text>
<path d="M3027.0 160.8L3093.5 160.8" fill="none" stroke="#000000" stroke-width="4.29" stroke-linejoin="round" stroke-linecap="square"/>
<g fill="#000000"><circle cx="3060.0" cy="160.8" r="5.7"/></g>
<text x="3120.49" y="173.15" font-size="35.32" textLength="103.20" lengthAdjust="spacingAndGlyphs" fill="#000" >Astig2</text>
<g fill="#ffa500" stroke="#ffa500" stroke-width="2.86" stroke-linejoin="miter"><path d="M3060.0 201.9L3051.4 219.1L3068.6 219.1Z"/></g>
<text x="3120.56" y="222.90" font-size="35.32" textLength="111.28" lengthAdjust="spacingAndGlyphs" fill="#000" >coma1</text>
<path d="M3027.0 260.2L3093.5 260.2" fill="none" stroke="#ffa500" stroke-width="4.29" stroke-linejoin="round" stroke-linecap="square"/>
<g fill="#ffa500"><circle cx="3060.0" cy="260.2" r="5.7"/></g>
<text x="3120.57" y="272.65" font-size="35.32" textLength="111.07" lengthAdjust="spacingAndGlyphs" fill="#000" >coma2</text>
<g fill="#a52a2a" stroke="#a52a2a" stroke-width="2.86" stroke-linejoin="miter"><path d="M3060.0 301.4L3051.4 318.6L3068.6 318.6Z"/></g>
<text x="3120.98" y="322.40" font-size="35.32" textLength="113.53" lengthAdjust="spacingAndGlyphs" fill="#000" >labaoX</text>
<path d="M3027.0 359.8L3093.5 359.8" fill="none" stroke="#a52a2a" stroke-width="4.29" stroke-linejoin="round" stroke-linecap="square"/>
<g fill="#a52a2a"><circle cx="3060.0" cy="359.8" r="5.7"/></g>
<text x="3121.01" y="372.15" font-size="35.32" textLength="112.16" lengthAdjust="spacingAndGlyphs" fill="#000" >labaoY</text>
<g fill="#00ffff" stroke="#00ffff" stroke-width="2.86" stroke-linejoin="miter"><path d="M3060.0 400.9L3051.4 418.1L3068.6 418.1Z"/></g>
<text x="3121.75" y="421.90" font-size="35.32" textLength="77.45" lengthAdjust="spacingAndGlyphs" fill="#000" >wfsX</text>
<path d="M3027.0 459.2L3093.5 459.2" fill="none" stroke="#00ffff" stroke-width="4.29" stroke-linejoin="round" stroke-linecap="square"/>
<g fill="#00ffff"><circle cx="3060.0" cy="459.2" r="5.7"/></g>
<text x="3121.75" y="471.65" font-size="35.32" textLength="76.10" lengthAdjust="spacingAndGlyphs" fill="#000" >wfsY</text>
<path d="M3027.0 509.0L3093.5 509.0" fill="none" stroke="#0000ff" stroke-width="4.29" stroke-linejoin="round" stroke-linecap="square"/>
<g fill="#0000ff"><circle cx="3060.0" cy="509.0" r="5.7"/></g>
<text x="3120.69" y="521.40" font-size="35.32" textLength="95.63" lengthAdjust="spacingAndGlyphs" fill="#000" >Focus</text>
<text x="3120.87" y="571.15" font-size="35.32" textLength="84.04" lengthAdjust="spacingAndGlyphs" fill="#000" >FLUX</text>
<line x1="155" y1="66.80" x2="165.0" y2="66.80" stroke="#000" stroke-width="2.29"/>
<text x="92.62" y="80.70" font-size="35.32" textLength="51.47" lengthAdjust="spacingAndGlyphs" fill="#000" >0.4</text>
<line x1="155" y1="201.55" x2="165.0" y2="201.55" stroke="#000" stroke-width="2.29"/>
<text x="93.42" y="215.45" font-size="35.32" textLength="51.20" lengthAdjust="spacingAndGlyphs" fill="#000" >0.3</text>
<line x1="155" y1="336.30" x2="165.0" y2="336.30" stroke="#000" stroke-width="2.29"/>
<text x="94.10" y="350.20" font-size="35.32" textLength="50.73" lengthAdjust="spacingAndGlyphs" fill="#000" >0.2</text>
<line x1="155" y1="471.05" x2="165.0" y2="471.05" stroke="#000" stroke-width="2.29"/>
<text x="93.84" y="484.95" font-size="35.32" textLength="50.95" lengthAdjust="spacingAndGlyphs" fill="#000" >0.1</text>
<line x1="155" y1="605.80" x2="165.0" y2="605.80" stroke="#000" stroke-width="2.29"/>
<text x="92.96" y="619.70" font-size="35.32" textLength="51.49" lengthAdjust="spacingAndGlyphs" fill="#000" >0.0</text>
<line x1="155" y1="740.55" x2="165.0" y2="740.55" stroke="#000" stroke-width="2.29"/>
<text x="66.72" y="754.45" font-size="35.32" textLength="78.21" lengthAdjust="spacingAndGlyphs" fill="#000" >−0.1</text>
<line x1="155" y1="875.30" x2="165.0" y2="875.30" stroke="#000" stroke-width="2.29"/>
<text x="66.99" y="889.20" font-size="35.32" textLength="78.00" lengthAdjust="spacingAndGlyphs" fill="#000" >−0.2</text>
<line x1="155" y1="1010.05" x2="165.0" y2="1010.05" stroke="#000" stroke-width="2.29"/>
<text x="66.31" y="1023.95" font-size="35.32" textLength="78.44" lengthAdjust="spacingAndGlyphs" fill="#000" >−0.3</text>
<line x1="155" y1="1144.80" x2="165.0" y2="1144.80" stroke="#000" stroke-width="2.29"/>
<text x="65.51" y="1158.70" font-size="35.32" textLength="78.66" lengthAdjust="spacingAndGlyphs" fill="#000" >−0.4</text>
<line x1="475.07" y1="1144.8" x2="475.07" y2="1154.8" stroke="#000" stroke-width="2.29"/>
<text x="465.41" y="1190.85" font-size="35.32" textLength="19.54" lengthAdjust="spacingAndGlyphs" fill="#000" >4</text>
<line x1="1095.07" y1="1144.8" x2="1095.07" y2="1154.8" stroke="#000" stroke-width="2.29"/>
<text x="1084.83" y="1190.85" font-size="35.32" textLength="20.22" lengthAdjust="spacingAndGlyphs" fill="#000" >6</text>
<line x1="1715.07" y1="1144.8" x2="1715.07" y2="1154.8" stroke="#000" stroke-width="2.29"/>
<text x="1705.19" y="1190.85" font-size="35.32" textLength="19.75" lengthAdjust="spacingAndGlyphs" fill="#000" >8</text>
<line x1="2335.07" y1="1144.8" x2="2335.07" y2="1154.8" stroke="#000" stroke-width="2.29"/>
<text x="2314.01" y="1190.85" font-size="35.32" textLength="40.76" lengthAdjust="spacingAndGlyphs" fill="#000" >10</text>
<line x1="2955.07" y1="1144.8" x2="2955.07" y2="1154.8" stroke="#000" stroke-width="2.29"/>
<text x="2934.63" y="1190.85" font-size="35.32" textLength="39.96" lengthAdjust="spacingAndGlyphs" fill="#000" >12</text>
<text x="1337.63" y="1235.40" font-size="35.32" textLength="753.43" lengthAdjust="spacingAndGlyphs" fill="#000" xml:space="preserve">2022-08-05  Time in hours since UT midnight</text>
<text x="-291.59" y="0.00" font-size="35.32" textLength="584.81" lengthAdjust="spacingAndGlyphs" fill="#000" transform="translate(44.8 607.75) rotate(-90)">Abberations, labaoX+Y, M7, DICHR</text>
<rect x="165.0" y="110.9" width="3100.0" height="11.0" fill="#ff0000"/>
<rect x="165.0" y="1090.9" width="3100.0" height="10.799999999999955" fill="#008000"/>
<line x1="3265.0" y1="1096.30" x2="3275.0" y2="1096.30" stroke="#000" stroke-width="2.29"/>
<text x="3284.93" y="1110.20" font-size="35.32" textLength="19.54" lengthAdjust="spacingAndGlyphs" fill="#000" >0</text>
<line x1="3265.0" y1="878.40" x2="3275.0" y2="878.40" stroke="#000" stroke-width="2.29"/>
<text x="3284.44" y="892.30" font-size="35.32" textLength="41.05" lengthAdjust="spacingAndGlyphs" fill="#000" >20</text>
<line x1="3265.0" y1="660.50" x2="3275.0" y2="660.50" stroke="#000" stroke-width="2.29"/>
<text x="3285.46" y="674.40" font-size="35.32" textLength="40.85" lengthAdjust="spacingAndGlyphs" fill="#000" >40</text>
<line x1="3265.0" y1="442.60" x2="3275.0" y2="442.60" stroke="#000" stroke-width="2.29"/>
<text x="3284.42" y="456.50" font-size="35.32" textLength="41.20" lengthAdjust="spacingAndGlyphs" fill="#000" >60</text>
<line x1="3265.0" y1="224.70" x2="3275.0" y2="224.70" stroke="#000" stroke-width="2.29"/>
<text x="3284.70" y="238.60" font-size="35.32" textLength="40.98" lengthAdjust="spacingAndGlyphs" fill="#000" >80</text>
<text x="-73.43" y="0.00" font-size="35.32" textLength="145.41" lengthAdjust="spacingAndGlyphs" fill="#000" transform="translate(3363.2 607.25) rotate(-90)">El, Temp</text>
<rect x="165.0" y="66.8" width="3100.0" height="1078.0" fill="none" stroke="#000" stroke-width="2.29" stroke-linejoin="miter"/>
<rect x="2923" y="553" width="324.5" height="108" rx="6" ry="6" fill="#ffffff" fill-opacity="0.8" stroke="#cccccc" stroke-opacity="0.8" stroke-width="2.86"/>
<path d="M3060.4 551.0L3062.9 556.6L3069.0 557.2L3064.4 561.3L3065.7 567.3L3060.4 564.2L3055.1 567.3L3056.4 561.3L3051.8 557.2L3057.9 556.6Z" fill="#c8c8ff" stroke="#c8c8ff" stroke-width="2"/>
<path d="M2935.0 579.0L3002.0 579.0" fill="none" stroke="#ff0000" stroke-width="4.29" stroke-linejoin="round" stroke-linecap="square"/>
<g fill="#ff0000"><circle cx="2969.3" cy="579.0" r="5.7"/></g>
<text x="3029.25" y="591.40" font-size="35.32" textLength="128.91" lengthAdjust="spacingAndGlyphs" fill="#000" xml:space="preserve">El (deg)</text>
<path d="M2935.0 628.8L3002.0 628.8" fill="none" stroke="#008000" stroke-width="4.29" stroke-linejoin="round" stroke-linecap="square"/>
<g fill="#008000"><circle cx="2969.3" cy="628.8" r="5.7"/></g>
<text x="3028.07" y="641.15" font-size="35.32" textLength="205.78" lengthAdjust="spacingAndGlyphs" fill="#000" xml:space="preserve">Temp(C) x 3</text>
<text x="1690.29" y="50.90" font-size="42.38" textLength="47.98" lengthAdjust="spacingAndGlyphs" fill="#000" >E2</text>
</svg></body></html>
